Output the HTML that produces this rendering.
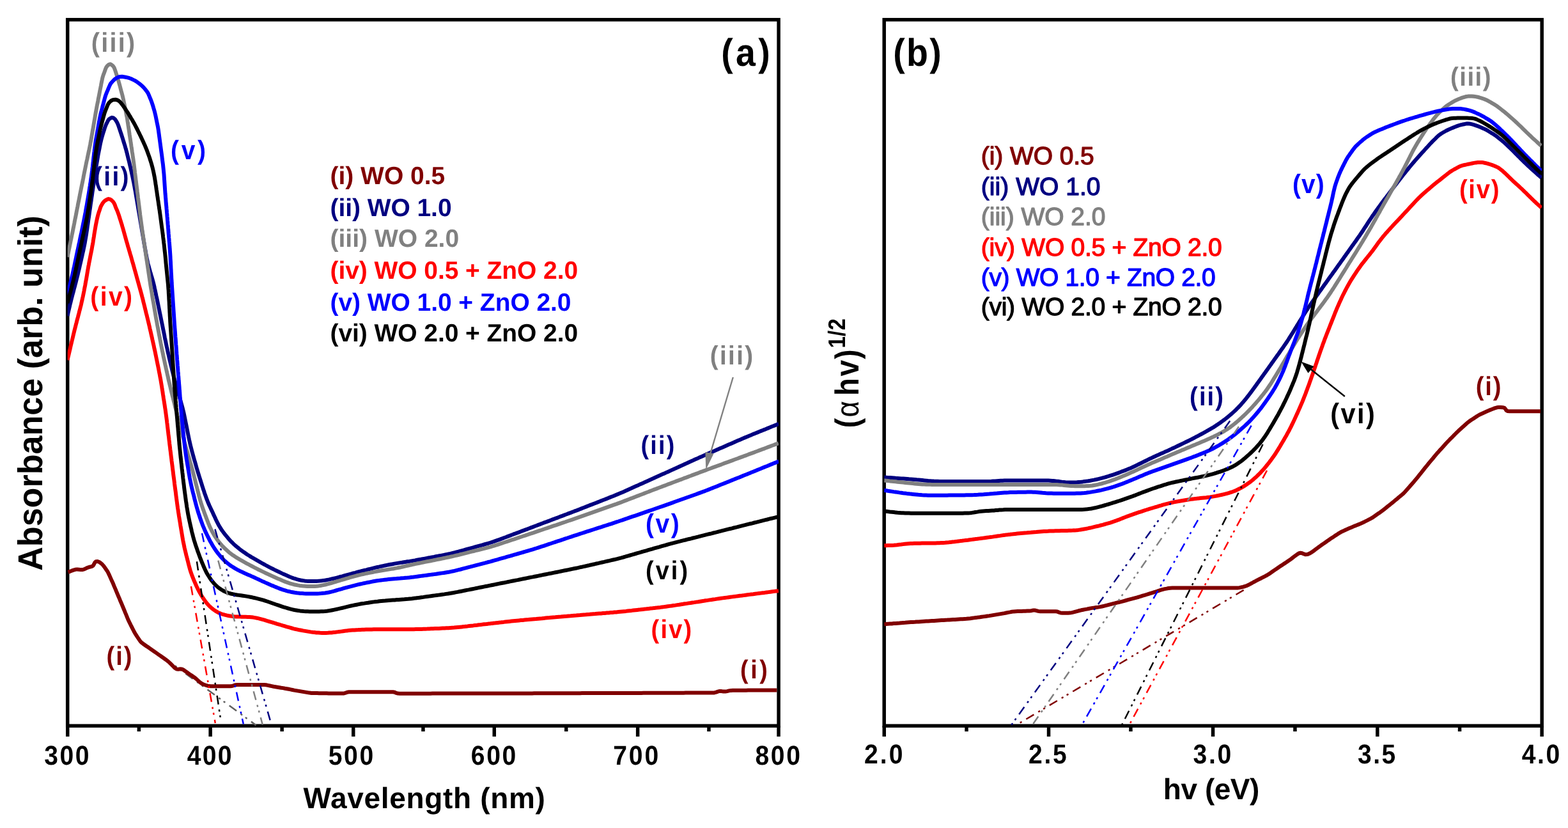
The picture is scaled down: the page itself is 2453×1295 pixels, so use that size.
<!DOCTYPE html>
<html lang="en"><head><meta charset="utf-8"><title>UV-Vis absorbance and Tauc plots</title>
<style>html,body{margin:0;padding:0;background:#fff}body{width:2453px;height:1295px;overflow:hidden}svg{display:block}</style>
</head><body>
<svg width="2453" height="1295" viewBox="0 0 2453 1295" font-family="'Liberation Sans', sans-serif" text-rendering="geometricPrecision">
<defs>
<clipPath id="cl"><rect x="105.7" y="30.8" width="1112.4" height="1104.4"/></clipPath>
<clipPath id="cr"><rect x="1383.2" y="30.8" width="1029.0" height="1104.4"/></clipPath>
</defs>
<rect x="105.7" y="30.8" width="1112.4" height="1104.4" fill="none" stroke="#000" stroke-width="5.5"/>
<rect x="103.0" y="1135.2" width="5.5" height="16.8" fill="#000"/>
<rect x="326.4" y="1135.2" width="5.5" height="16.8" fill="#000"/>
<rect x="550.0" y="1135.2" width="5.5" height="16.8" fill="#000"/>
<rect x="770.5" y="1135.2" width="5.5" height="16.8" fill="#000"/>
<rect x="994.9" y="1135.2" width="5.5" height="16.8" fill="#000"/>
<rect x="1215.3" y="1135.2" width="5.5" height="16.8" fill="#000"/>
<rect x="214.6" y="1135.2" width="5.5" height="8.8" fill="#000"/>
<rect x="438.4" y="1135.2" width="5.5" height="8.8" fill="#000"/>
<rect x="659.2" y="1135.2" width="5.5" height="8.8" fill="#000"/>
<rect x="883.0" y="1135.2" width="5.5" height="8.8" fill="#000"/>
<rect x="1106.2" y="1135.2" width="5.5" height="8.8" fill="#000"/>
<g clip-path="url(#cl)" fill="none" stroke-width="2.5" stroke-dasharray="14 8 3.2 6 3.2 8">
<line stroke="#606060" x1="222.0" y1="1003.2" x2="400.5" y2="1134.2"/>
</g>
<g clip-path="url(#cl)" fill="none" stroke-width="6.0" stroke-linejoin="round" stroke-linecap="butt">
<path stroke="#800000" d="M106.5,894.8 L109.3,893.8 L112.1,892.7 L115.0,891.7 L117.8,890.8 L120.7,890.4 L123.6,890.7 L126.5,891.1 L129.4,891.0 L132.2,890.1 L134.9,888.8 L137.6,887.6 L140.4,886.7 L143.2,886.1 L145.5,884.8 L147.0,882.5 L148.2,879.9 L150.0,878.2 L152.6,878.0 L155.3,879.0 L157.7,880.7 L159.9,882.6 L161.9,884.9 L163.7,887.3 L165.4,889.7 L167.1,892.2 L168.7,894.7 L170.0,897.4 L171.3,900.1 L172.5,902.9 L173.7,905.6 L174.9,908.3 L176.2,911.1 L177.4,913.8 L178.5,916.6 L179.7,919.4 L180.9,922.1 L182.0,924.9 L183.2,927.7 L184.3,930.4 L185.5,933.2 L186.7,935.9 L187.8,938.7 L189.0,941.5 L190.2,944.2 L191.3,947.0 L192.5,949.8 L193.6,952.5 L194.8,955.3 L195.9,958.1 L197.1,960.9 L198.2,963.6 L199.3,966.4 L200.5,969.2 L201.7,971.9 L203.1,974.6 L204.4,977.3 L205.8,980.0 L207.1,982.6 L208.5,985.3 L209.8,988.0 L211.3,990.6 L212.9,993.1 L214.5,995.6 L216.2,998.1 L217.9,1000.6 L219.6,1003.1 L221.6,1005.2 L223.9,1007.0 L226.4,1008.7 L228.9,1010.4 L231.4,1012.1 L233.9,1013.8 L236.3,1015.5 L238.8,1017.2 L241.3,1018.9 L243.7,1020.6 L246.2,1022.4 L248.6,1024.1 L251.1,1025.8 L253.5,1027.5 L256.0,1029.3 L258.4,1031.0 L260.9,1032.7 L263.2,1034.6 L265.4,1036.6 L267.5,1038.7 L269.7,1040.9 L271.8,1043.0 L273.9,1045.0 L276.3,1046.5 L279.0,1046.7 L281.9,1046.3 L284.6,1046.5 L287.2,1047.8 L289.6,1049.5 L292.1,1051.2 L294.5,1053.0 L297.0,1054.7 L299.5,1056.3 L302.0,1058.0 L304.4,1059.7 L306.8,1061.6 L309.0,1063.6 L311.2,1065.6 L313.4,1067.6 L315.9,1069.3 L318.6,1070.5 L321.4,1071.5 L324.2,1072.4 L327.1,1073.1 L330.1,1073.3 L333.1,1073.3 L336.1,1073.3 L339.1,1073.3 L342.1,1073.3 L345.1,1073.3 L348.1,1073.3 L351.1,1073.3 L354.1,1073.3 L357.1,1073.3 L360.1,1073.3 L363.0,1073.0 L365.7,1072.1 L368.4,1071.2 L371.3,1070.9 L374.3,1070.9 L377.3,1070.9 L380.3,1070.9 L383.3,1070.9 L386.3,1070.9 L389.3,1070.9 L392.3,1070.9 L395.3,1070.9 L398.3,1070.9 L401.3,1070.9 L404.3,1070.9 L407.3,1070.9 L410.3,1070.9 L413.3,1071.0 L416.3,1071.3 L419.2,1071.9 L422.2,1072.5 L425.1,1073.1 L428.0,1073.7 L431.0,1074.2 L433.9,1074.7 L436.9,1075.2 L439.9,1075.7 L442.8,1076.1 L445.8,1076.7 L448.7,1077.2 L451.7,1077.8 L454.6,1078.4 L457.5,1079.0 L460.5,1079.6 L463.4,1080.1 L466.4,1080.6 L469.4,1081.1 L472.3,1081.6 L475.3,1082.1 L478.2,1082.6 L481.2,1083.1 L484.1,1083.6 L487.1,1083.9 L490.1,1084.0 L493.1,1084.1 L496.1,1084.1 L499.1,1084.2 L502.1,1084.2 L505.1,1084.2 L508.1,1084.3 L511.1,1084.3 L514.1,1084.4 L517.1,1084.4 L520.1,1084.4 L523.1,1084.5 L526.1,1084.5 L529.1,1084.6 L532.1,1084.6 L535.1,1084.6 L538.0,1084.5 L540.6,1083.7 L543.0,1082.7 L545.8,1082.3 L548.8,1082.3 L551.8,1082.3 L554.8,1082.3 L557.8,1082.3 L560.8,1082.3 L563.8,1082.3 L566.8,1082.3 L569.8,1082.3 L572.8,1082.3 L575.8,1082.3 L578.8,1082.3 L581.8,1082.3 L584.8,1082.3 L587.8,1082.3 L590.8,1082.3 L593.8,1082.3 L596.8,1082.3 L599.8,1082.3 L602.8,1082.3 L605.8,1082.3 L608.8,1082.3 L611.8,1082.3 L614.8,1082.3 L617.6,1082.8 L620.0,1083.9 L622.6,1084.6 L625.5,1084.7 L628.5,1084.7 L631.5,1084.7 L634.5,1084.7 L637.5,1084.7 L640.5,1084.7 L643.5,1084.7 L646.5,1084.7 L649.5,1084.7 L652.5,1084.7 L655.5,1084.7 L658.5,1084.7 L661.5,1084.7 L664.5,1084.7 L667.5,1084.7 L670.5,1084.7 L673.5,1084.7 L676.5,1084.6 L679.5,1084.6 L682.5,1084.6 L685.5,1084.6 L688.5,1084.6 L691.5,1084.6 L694.5,1084.6 L697.5,1084.6 L700.5,1084.6 L703.5,1084.6 L706.5,1084.6 L709.5,1084.6 L712.5,1084.6 L715.5,1084.6 L718.5,1084.6 L721.5,1084.6 L724.5,1084.6 L727.5,1084.6 L730.5,1084.5 L733.5,1084.5 L736.5,1084.5 L739.5,1084.5 L742.5,1084.5 L745.5,1084.5 L748.5,1084.5 L751.5,1084.5 L754.5,1084.5 L757.5,1084.5 L760.5,1084.5 L763.5,1084.5 L766.5,1084.5 L769.5,1084.5 L772.5,1084.5 L775.5,1084.5 L778.5,1084.5 L781.5,1084.4 L784.5,1084.4 L787.5,1084.4 L790.5,1084.4 L793.5,1084.4 L796.5,1084.4 L799.5,1084.4 L802.5,1084.4 L805.5,1084.4 L808.5,1084.4 L811.5,1084.4 L814.5,1084.4 L817.5,1084.4 L820.5,1084.4 L823.5,1084.4 L826.5,1084.4 L829.5,1084.4 L832.5,1084.4 L835.5,1084.3 L838.5,1084.3 L841.5,1084.3 L844.5,1084.3 L847.5,1084.3 L850.5,1084.3 L853.5,1084.3 L856.5,1084.3 L859.5,1084.3 L862.5,1084.3 L865.5,1084.3 L868.5,1084.3 L871.5,1084.3 L874.5,1084.3 L877.5,1084.2 L880.5,1084.2 L883.5,1084.2 L886.5,1084.2 L889.5,1084.2 L892.5,1084.2 L895.5,1084.2 L898.5,1084.2 L901.5,1084.2 L904.5,1084.2 L907.5,1084.2 L910.5,1084.1 L913.5,1084.1 L916.5,1084.1 L919.5,1084.1 L922.5,1084.1 L925.5,1084.1 L928.5,1084.1 L931.5,1084.1 L934.5,1084.1 L937.5,1084.1 L940.5,1084.1 L943.5,1084.0 L946.5,1084.0 L949.5,1084.0 L952.5,1084.0 L955.5,1084.0 L958.5,1084.0 L961.5,1084.0 L964.5,1084.0 L967.5,1084.0 L970.5,1084.0 L973.5,1083.9 L976.5,1083.9 L979.5,1083.9 L982.5,1083.9 L985.5,1083.9 L988.5,1083.9 L991.5,1083.9 L994.5,1083.9 L997.5,1083.9 L1000.5,1083.9 L1003.5,1083.9 L1006.5,1083.8 L1009.5,1083.8 L1012.5,1083.8 L1015.5,1083.8 L1018.5,1083.8 L1021.5,1083.8 L1024.5,1083.8 L1027.5,1083.8 L1030.5,1083.8 L1033.5,1083.8 L1036.5,1083.8 L1039.5,1083.7 L1042.5,1083.7 L1045.5,1083.7 L1048.5,1083.7 L1051.5,1083.7 L1054.5,1083.7 L1057.5,1083.7 L1060.5,1083.7 L1063.5,1083.7 L1066.5,1083.7 L1069.5,1083.7 L1072.5,1083.6 L1075.5,1083.6 L1078.5,1083.6 L1081.5,1083.6 L1084.5,1083.6 L1087.5,1083.6 L1090.5,1083.6 L1093.5,1083.6 L1096.5,1083.6 L1099.5,1083.6 L1102.5,1083.6 L1105.5,1083.5 L1108.5,1083.5 L1111.5,1083.5 L1114.5,1083.5 L1117.5,1083.4 L1120.3,1082.7 L1123.0,1081.6 L1125.8,1080.9 L1128.7,1081.1 L1131.7,1081.5 L1134.7,1081.6 L1137.5,1081.1 L1140.4,1080.4 L1143.4,1079.9 L1146.3,1079.8 L1149.3,1079.8 L1152.3,1079.7 L1155.3,1079.7 L1158.3,1079.7 L1161.3,1079.7 L1164.3,1079.7 L1167.3,1079.7 L1170.3,1079.6 L1173.3,1079.6 L1176.3,1079.6 L1179.3,1079.6 L1182.3,1079.6 L1185.3,1079.6 L1188.3,1079.5 L1191.3,1079.5 L1194.3,1079.5 L1197.3,1079.5 L1200.3,1079.5 L1203.3,1079.5 L1206.3,1079.4 L1209.3,1079.4 L1212.3,1079.4 L1215.3,1079.4"/>
<path stroke="#000080" d="M105.5,494.0 L106.2,491.1 L106.8,488.2 L107.5,485.2 L108.2,482.3 L108.9,479.4 L109.5,476.5 L110.3,473.5 L111.0,470.6 L111.7,467.7 L112.5,464.8 L113.2,461.9 L114.0,459.0 L114.8,456.1 L115.5,453.2 L116.3,450.3 L117.1,447.4 L117.8,444.5 L118.6,441.6 L119.3,438.7 L120.0,435.8 L120.8,432.9 L121.5,430.0 L122.2,427.1 L122.9,424.1 L123.6,421.2 L124.3,418.3 L124.9,415.4 L125.6,412.5 L126.3,409.5 L127.0,406.6 L127.6,403.7 L128.3,400.8 L128.9,397.8 L129.6,394.9 L130.3,392.0 L130.9,389.0 L131.5,386.1 L132.1,383.2 L132.7,380.2 L133.2,377.3 L133.7,374.3 L134.2,371.4 L134.7,368.4 L135.2,365.4 L135.6,362.5 L136.1,359.5 L136.5,356.5 L136.9,353.6 L137.4,350.6 L137.8,347.6 L138.2,344.7 L138.6,341.7 L139.1,338.7 L139.5,335.8 L139.9,332.8 L140.3,329.8 L140.8,326.8 L141.2,323.9 L141.6,320.9 L142.0,317.9 L142.5,315.0 L142.9,312.0 L143.3,309.0 L143.8,306.1 L144.2,303.1 L144.6,300.1 L145.1,297.2 L145.5,294.2 L145.9,291.2 L146.4,288.3 L146.8,285.3 L147.2,282.3 L147.7,279.4 L148.1,276.4 L148.5,273.4 L149.0,270.4 L149.4,267.5 L149.9,264.5 L150.3,261.5 L150.8,258.6 L151.3,255.6 L151.8,252.7 L152.3,249.7 L152.8,246.7 L153.3,243.8 L153.8,240.8 L154.4,237.9 L155.0,235.0 L155.6,232.0 L156.1,229.1 L156.7,226.1 L157.3,223.2 L158.0,220.3 L158.7,217.4 L159.5,214.5 L160.3,211.6 L161.2,208.7 L162.1,205.9 L163.0,203.0 L163.9,200.1 L164.9,197.3 L166.0,194.5 L167.4,191.8 L168.7,189.2 L170.3,186.7 L172.6,184.9 L175.1,183.8 L177.6,184.5 L179.8,186.3 L181.5,188.7 L183.0,191.3 L184.3,194.0 L185.4,196.8 L186.3,199.6 L187.3,202.5 L188.2,205.3 L189.2,208.2 L190.1,211.0 L191.0,213.9 L191.9,216.7 L192.8,219.6 L193.7,222.5 L194.6,225.3 L195.5,228.2 L196.3,231.1 L197.2,234.0 L197.9,236.9 L198.7,239.8 L199.4,242.7 L200.1,245.6 L200.8,248.5 L201.6,251.4 L202.3,254.3 L203.0,257.2 L203.7,260.2 L204.4,263.1 L205.0,266.0 L205.7,268.9 L206.3,271.9 L207.0,274.8 L207.6,277.7 L208.2,280.7 L208.8,283.6 L209.4,286.5 L209.9,289.5 L210.5,292.4 L211.0,295.4 L211.6,298.3 L212.1,301.3 L212.6,304.3 L213.1,307.2 L213.6,310.2 L214.1,313.1 L214.6,316.1 L215.1,319.0 L215.6,322.0 L216.1,325.0 L216.6,327.9 L217.1,330.9 L217.6,333.8 L218.1,336.8 L218.6,339.7 L219.1,342.7 L219.6,345.7 L220.1,348.6 L220.6,351.6 L221.1,354.5 L221.6,357.5 L222.1,360.5 L222.6,363.4 L223.1,366.4 L223.6,369.3 L224.1,372.3 L224.6,375.2 L225.1,378.2 L225.6,381.2 L226.1,384.1 L226.6,387.1 L227.2,390.0 L227.7,393.0 L228.2,395.9 L228.7,398.9 L229.3,401.8 L229.9,404.8 L230.5,407.7 L231.1,410.6 L231.8,413.5 L232.6,416.4 L233.4,419.3 L234.2,422.2 L235.0,425.1 L235.9,428.0 L236.7,430.8 L237.6,433.7 L238.4,436.6 L239.2,439.5 L240.0,442.4 L240.7,445.3 L241.4,448.2 L242.0,451.1 L242.7,454.1 L243.3,457.0 L243.9,459.9 L244.5,462.9 L245.2,465.8 L245.8,468.7 L246.4,471.7 L247.0,474.6 L247.6,477.5 L248.2,480.5 L248.8,483.4 L249.4,486.4 L250.0,489.3 L250.6,492.2 L251.2,495.2 L251.8,498.1 L252.4,501.1 L253.0,504.0 L253.6,506.9 L254.2,509.9 L254.8,512.8 L255.4,515.8 L256.0,518.7 L256.6,521.6 L257.2,524.6 L257.7,527.5 L258.3,530.5 L259.0,533.4 L259.6,536.3 L260.2,539.3 L260.8,542.2 L261.5,545.1 L262.1,548.1 L262.7,551.0 L263.4,553.9 L264.1,556.9 L264.7,559.8 L265.4,562.7 L266.1,565.6 L266.8,568.5 L267.5,571.5 L268.2,574.4 L268.9,577.3 L269.6,580.2 L270.3,583.1 L271.1,586.0 L271.8,588.9 L272.6,591.8 L273.4,594.7 L274.2,597.6 L275.0,600.5 L275.8,603.4 L276.6,606.3 L277.4,609.2 L278.2,612.1 L279.0,614.9 L279.9,617.8 L280.7,620.7 L281.5,623.6 L282.4,626.5 L283.2,629.3 L284.0,632.2 L284.8,635.1 L285.6,638.0 L286.3,640.9 L287.0,643.8 L287.7,646.8 L288.3,649.7 L288.9,652.6 L289.5,655.6 L290.1,658.5 L290.7,661.5 L291.3,664.4 L291.9,667.3 L292.5,670.3 L293.0,673.2 L293.6,676.2 L294.2,679.1 L294.8,682.0 L295.4,685.0 L296.0,687.9 L296.7,690.9 L297.3,693.8 L298.0,696.7 L298.7,699.6 L299.5,702.5 L300.2,705.4 L301.0,708.3 L301.8,711.2 L302.6,714.1 L303.4,717.0 L304.2,719.9 L305.1,722.7 L305.9,725.6 L306.7,728.5 L307.5,731.4 L308.4,734.3 L309.2,737.2 L310.1,740.0 L311.0,742.9 L311.9,745.8 L312.8,748.6 L313.7,751.5 L314.6,754.3 L315.5,757.2 L316.4,760.1 L317.3,762.9 L318.2,765.8 L319.2,768.6 L320.1,771.5 L321.1,774.3 L322.1,777.1 L323.1,779.9 L324.2,782.7 L325.3,785.5 L326.5,788.3 L327.7,791.0 L329.0,793.7 L330.2,796.4 L331.5,799.1 L332.8,801.8 L334.0,804.6 L335.3,807.3 L336.6,810.0 L337.8,812.7 L339.1,815.4 L340.5,818.1 L341.8,820.7 L343.3,823.3 L344.9,825.9 L346.5,828.4 L348.2,830.8 L350.0,833.2 L351.8,835.6 L353.7,837.9 L355.6,840.2 L357.5,842.5 L359.5,844.7 L361.5,846.9 L363.7,849.0 L365.8,851.1 L368.0,853.1 L370.3,855.0 L372.6,856.9 L374.9,858.8 L377.3,860.6 L379.7,862.4 L382.2,864.1 L384.6,865.8 L387.1,867.5 L389.7,869.0 L392.2,870.6 L394.8,872.2 L397.4,873.7 L400.0,875.2 L402.6,876.7 L405.2,878.2 L407.8,879.7 L410.4,881.1 L413.0,882.5 L415.7,884.0 L418.3,885.4 L421.0,886.8 L423.6,888.2 L426.3,889.5 L429.0,890.9 L431.7,892.2 L434.4,893.5 L437.1,894.8 L439.8,896.1 L442.5,897.4 L445.2,898.6 L448.0,899.8 L450.7,901.0 L453.5,902.2 L456.3,903.3 L459.1,904.3 L461.9,905.2 L464.8,906.1 L467.6,906.8 L470.5,907.5 L473.5,908.0 L476.4,908.4 L479.4,908.7 L482.3,908.9 L485.3,909.0 L488.3,909.1 L491.3,909.0 L494.3,908.9 L497.3,908.8 L500.3,908.6 L503.2,908.3 L506.2,907.9 L509.1,907.5 L512.1,906.9 L515.0,906.4 L517.9,905.7 L520.9,905.0 L523.8,904.3 L526.7,903.6 L529.6,902.8 L532.5,902.0 L535.4,901.3 L538.3,900.5 L541.2,899.7 L544.1,898.9 L547.0,898.1 L549.8,897.3 L552.7,896.5 L555.6,895.8 L558.5,895.0 L561.4,894.2 L564.3,893.5 L567.3,892.7 L570.2,892.0 L573.1,891.3 L576.0,890.5 L578.9,889.8 L581.8,889.1 L584.7,888.4 L587.6,887.7 L590.6,887.0 L593.5,886.4 L596.4,885.7 L599.3,885.1 L602.3,884.5 L605.2,883.9 L608.2,883.3 L611.1,882.7 L614.1,882.2 L617.0,881.6 L620.0,881.1 L622.9,880.6 L625.9,880.1 L628.8,879.7 L631.8,879.2 L634.8,878.8 L637.7,878.3 L640.7,877.9 L643.7,877.4 L646.6,876.9 L649.6,876.4 L652.5,875.8 L655.5,875.3 L658.4,874.8 L661.4,874.2 L664.3,873.7 L667.3,873.1 L670.2,872.5 L673.2,872.0 L676.1,871.4 L679.1,870.9 L682.0,870.3 L685.0,869.8 L687.9,869.2 L690.8,868.7 L693.8,868.1 L696.7,867.5 L699.7,866.9 L702.6,866.3 L705.5,865.6 L708.4,864.9 L711.4,864.2 L714.3,863.4 L717.2,862.7 L720.0,861.9 L722.9,861.1 L725.8,860.3 L728.7,859.5 L731.6,858.7 L734.5,857.9 L737.4,857.1 L740.3,856.3 L743.2,855.5 L746.1,854.7 L749.0,853.9 L751.9,853.1 L754.8,852.3 L757.6,851.5 L760.5,850.7 L763.4,849.9 L766.3,849.0 L769.1,848.1 L772.0,847.2 L774.8,846.2 L777.6,845.2 L780.5,844.2 L783.3,843.1 L786.1,842.1 L788.9,841.0 L791.7,840.0 L794.5,838.9 L797.3,837.9 L800.1,836.8 L802.9,835.7 L805.7,834.7 L808.5,833.6 L811.4,832.6 L814.2,831.5 L817.0,830.4 L819.8,829.4 L822.6,828.3 L825.4,827.3 L828.2,826.2 L831.0,825.1 L833.8,824.1 L836.6,823.0 L839.4,822.0 L842.2,820.9 L845.0,819.9 L847.8,818.8 L850.6,817.7 L853.5,816.7 L856.3,815.6 L859.1,814.6 L861.9,813.5 L864.7,812.4 L867.5,811.4 L870.3,810.3 L873.1,809.3 L875.9,808.2 L878.7,807.2 L881.5,806.1 L884.3,805.0 L887.1,804.0 L889.9,802.9 L892.8,801.9 L895.6,800.8 L898.4,799.7 L901.2,798.7 L904.0,797.6 L906.8,796.5 L909.6,795.4 L912.4,794.3 L915.1,793.2 L917.9,792.1 L920.7,791.0 L923.5,789.9 L926.3,788.9 L929.1,787.8 L931.9,786.7 L934.7,785.6 L937.5,784.5 L940.3,783.4 L943.1,782.3 L945.9,781.2 L948.7,780.1 L951.5,779.0 L954.2,777.9 L957.0,776.8 L959.8,775.7 L962.6,774.5 L965.4,773.4 L968.1,772.3 L970.9,771.1 L973.7,769.9 L976.4,768.7 L979.1,767.5 L981.9,766.2 L984.6,765.0 L987.4,763.8 L990.1,762.5 L992.8,761.3 L995.6,760.1 L998.3,758.9 L1001.0,757.6 L1003.8,756.4 L1006.5,755.2 L1009.2,753.9 L1012.0,752.7 L1014.7,751.5 L1017.4,750.2 L1020.2,749.0 L1022.9,747.8 L1025.6,746.5 L1028.4,745.3 L1031.1,744.1 L1033.8,742.8 L1036.6,741.6 L1039.3,740.4 L1042.1,739.1 L1044.8,737.9 L1047.5,736.7 L1050.3,735.4 L1053.0,734.2 L1055.7,732.9 L1058.5,731.7 L1061.2,730.5 L1063.9,729.2 L1066.7,728.0 L1069.4,726.8 L1072.1,725.5 L1074.9,724.3 L1077.6,723.0 L1080.3,721.8 L1083.1,720.6 L1085.8,719.3 L1088.5,718.1 L1091.3,716.9 L1094.0,715.6 L1096.7,714.4 L1099.5,713.2 L1102.2,712.0 L1104.9,710.8 L1107.7,709.5 L1110.4,708.3 L1113.2,707.1 L1115.9,705.9 L1118.7,704.7 L1121.4,703.5 L1124.2,702.3 L1126.9,701.1 L1129.7,699.9 L1132.4,698.7 L1135.2,697.5 L1137.9,696.3 L1140.7,695.1 L1143.4,693.9 L1146.2,692.7 L1148.9,691.5 L1151.7,690.3 L1154.4,689.1 L1157.2,687.9 L1159.9,686.7 L1162.7,685.5 L1165.4,684.4 L1168.2,683.2 L1171.0,682.1 L1173.8,680.9 L1176.5,679.8 L1179.3,678.6 L1182.1,677.5 L1184.9,676.4 L1187.6,675.3 L1190.4,674.1 L1193.2,673.0 L1196.0,671.9 L1198.8,670.7 L1201.5,669.6 L1204.3,668.5 L1207.1,667.3 L1209.9,666.2 L1212.7,665.1 L1215.4,664.0 L1218.2,662.8"/>
<path stroke="#808080" d="M105.5,402.0 L106.1,399.1 L106.7,396.1 L107.3,393.2 L107.9,390.2 L108.5,387.3 L109.1,384.4 L109.7,381.4 L110.3,378.5 L110.9,375.5 L111.5,372.6 L112.1,369.7 L112.7,366.7 L113.3,363.8 L113.9,360.8 L114.5,357.9 L115.1,355.0 L115.7,352.0 L116.3,349.1 L116.8,346.1 L117.4,343.2 L118.0,340.3 L118.6,337.3 L119.2,334.4 L119.7,331.4 L120.3,328.5 L120.9,325.5 L121.5,322.6 L122.0,319.6 L122.6,316.7 L123.2,313.8 L123.8,310.8 L124.4,307.9 L124.9,304.9 L125.5,302.0 L126.1,299.0 L126.7,296.1 L127.3,293.2 L127.9,290.2 L128.5,287.3 L129.1,284.3 L129.7,281.4 L130.3,278.5 L130.8,275.5 L131.4,272.6 L132.0,269.6 L132.6,266.7 L133.2,263.8 L133.8,260.8 L134.4,257.9 L135.0,254.9 L135.6,252.0 L136.3,249.1 L136.9,246.1 L137.5,243.2 L138.1,240.3 L138.7,237.3 L139.4,234.4 L140.0,231.5 L140.6,228.5 L141.2,225.6 L141.7,222.6 L142.3,219.7 L142.8,216.7 L143.3,213.8 L143.8,210.8 L144.3,207.9 L144.8,204.9 L145.4,201.9 L145.9,199.0 L146.4,196.0 L146.9,193.1 L147.4,190.1 L147.9,187.2 L148.4,184.2 L148.9,181.2 L149.4,178.3 L149.9,175.3 L150.5,172.4 L151.0,169.4 L151.5,166.5 L152.1,163.5 L152.7,160.6 L153.3,157.6 L153.8,154.7 L154.4,151.8 L155.0,148.8 L155.6,145.9 L156.1,142.9 L156.7,140.0 L157.3,137.0 L157.9,134.1 L158.4,131.1 L159.0,128.2 L159.6,125.3 L160.2,122.3 L161.0,119.4 L161.9,116.6 L163.0,113.8 L164.0,111.0 L165.0,108.1 L166.1,105.4 L167.8,103.0 L170.1,101.1 L172.4,100.2 L174.7,101.4 L176.9,103.3 L178.5,105.7 L179.6,108.5 L180.6,111.3 L181.5,114.2 L182.4,117.0 L183.3,119.9 L184.2,122.8 L185.1,125.6 L185.9,128.5 L186.7,131.4 L187.5,134.3 L188.3,137.2 L189.0,140.1 L189.8,143.0 L190.6,145.9 L191.4,148.8 L192.1,151.7 L192.8,154.6 L193.4,157.5 L194.0,160.5 L194.6,163.4 L195.2,166.4 L195.8,169.3 L196.4,172.2 L197.0,175.2 L197.5,178.1 L198.1,181.1 L198.7,184.0 L199.2,187.0 L199.6,189.9 L200.1,192.9 L200.5,195.9 L201.0,198.8 L201.4,201.8 L201.9,204.8 L202.3,207.7 L202.7,210.7 L203.2,213.7 L203.6,216.6 L204.1,219.6 L204.5,222.6 L205.0,225.5 L205.4,228.5 L205.9,231.5 L206.3,234.4 L206.7,237.4 L207.2,240.4 L207.6,243.3 L208.0,246.3 L208.5,249.3 L208.9,252.3 L209.3,255.2 L209.7,258.2 L210.0,261.2 L210.4,264.2 L210.8,267.1 L211.1,270.1 L211.5,273.1 L211.9,276.1 L212.2,279.0 L212.6,282.0 L213.0,285.0 L213.3,288.0 L213.7,291.0 L214.1,293.9 L214.5,296.9 L214.8,299.9 L215.2,302.9 L215.6,305.8 L215.9,308.8 L216.3,311.8 L216.7,314.8 L217.0,317.7 L217.4,320.7 L217.8,323.7 L218.1,326.7 L218.5,329.7 L218.9,332.6 L219.2,335.6 L219.6,338.6 L220.0,341.6 L220.4,344.5 L220.8,347.5 L221.2,350.5 L221.6,353.5 L222.0,356.4 L222.4,359.4 L222.9,362.4 L223.3,365.3 L223.7,368.3 L224.2,371.3 L224.6,374.2 L225.1,377.2 L225.5,380.2 L226.0,383.1 L226.4,386.1 L226.9,389.1 L227.3,392.0 L227.8,395.0 L228.2,398.0 L228.6,400.9 L229.1,403.9 L229.5,406.9 L230.0,409.8 L230.4,412.8 L230.9,415.8 L231.3,418.7 L231.8,421.7 L232.2,424.7 L232.6,427.6 L233.1,430.6 L233.5,433.6 L234.0,436.5 L234.4,439.5 L234.9,442.5 L235.3,445.4 L235.8,448.4 L236.3,451.4 L236.8,454.3 L237.3,457.3 L237.8,460.2 L238.2,463.2 L238.7,466.2 L239.2,469.1 L239.8,472.1 L240.3,475.0 L240.8,478.0 L241.3,480.9 L241.8,483.9 L242.3,486.9 L242.8,489.8 L243.3,492.8 L243.8,495.7 L244.3,498.7 L244.9,501.6 L245.4,504.6 L245.9,507.5 L246.5,510.5 L247.1,513.4 L247.6,516.4 L248.2,519.3 L248.7,522.3 L249.3,525.2 L249.9,528.2 L250.4,531.1 L251.0,534.1 L251.5,537.0 L252.1,540.0 L252.7,542.9 L253.3,545.8 L253.9,548.8 L254.5,551.7 L255.1,554.7 L255.7,557.6 L256.3,560.5 L257.0,563.5 L257.6,566.4 L258.2,569.3 L258.9,572.2 L259.5,575.2 L260.2,578.1 L260.8,581.0 L261.5,584.0 L262.1,586.9 L262.8,589.8 L263.4,592.7 L264.1,595.7 L264.8,598.6 L265.5,601.5 L266.2,604.4 L266.9,607.3 L267.6,610.3 L268.3,613.2 L269.0,616.1 L269.7,619.0 L270.5,621.9 L271.2,624.8 L271.9,627.7 L272.7,630.6 L273.4,633.5 L274.1,636.5 L274.8,639.4 L275.6,642.3 L276.3,645.2 L277.0,648.1 L277.8,651.0 L278.5,653.9 L279.2,656.8 L280.0,659.7 L280.7,662.6 L281.5,665.5 L282.2,668.4 L283.0,671.3 L283.8,674.2 L284.6,677.1 L285.4,680.0 L286.2,682.9 L287.0,685.8 L287.8,688.7 L288.6,691.6 L289.5,694.5 L290.3,697.3 L291.1,700.2 L291.9,703.1 L292.8,706.0 L293.6,708.9 L294.4,711.8 L295.3,714.6 L296.1,717.5 L296.9,720.4 L297.7,723.3 L298.6,726.2 L299.4,729.1 L300.2,732.0 L301.0,734.8 L301.8,737.7 L302.5,740.6 L303.3,743.5 L304.0,746.4 L304.8,749.4 L305.5,752.3 L306.2,755.2 L306.9,758.1 L307.7,761.0 L308.4,763.9 L309.1,766.8 L309.9,769.7 L310.6,772.6 L311.3,775.5 L312.1,778.4 L312.9,781.3 L313.7,784.2 L314.6,787.1 L315.5,789.9 L316.5,792.8 L317.4,795.6 L318.5,798.4 L319.5,801.2 L320.5,804.0 L321.6,806.9 L322.6,809.7 L323.7,812.5 L324.8,815.3 L325.8,818.1 L327.0,820.8 L328.1,823.6 L329.4,826.3 L330.7,829.0 L332.0,831.6 L333.5,834.2 L335.0,836.8 L336.6,839.3 L338.3,841.8 L340.0,844.3 L341.8,846.7 L343.6,849.0 L345.5,851.3 L347.5,853.5 L349.6,855.6 L351.7,857.8 L353.9,859.8 L356.1,861.8 L358.3,863.8 L360.7,865.6 L363.0,867.4 L365.5,869.1 L368.0,870.8 L370.5,872.4 L373.1,873.9 L375.6,875.4 L378.3,876.9 L380.9,878.4 L383.5,879.8 L386.1,881.3 L388.8,882.7 L391.4,884.1 L394.1,885.5 L396.7,886.9 L399.4,888.3 L402.1,889.6 L404.7,891.0 L407.4,892.3 L410.1,893.6 L412.8,894.9 L415.5,896.2 L418.3,897.5 L421.0,898.7 L423.7,900.0 L426.4,901.2 L429.2,902.5 L431.9,903.7 L434.6,904.9 L437.4,906.1 L440.1,907.3 L442.9,908.5 L445.7,909.6 L448.5,910.7 L451.3,911.7 L454.1,912.6 L457.0,913.4 L459.9,914.2 L462.8,914.8 L465.7,915.4 L468.7,915.9 L471.6,916.2 L474.6,916.6 L477.6,916.8 L480.6,917.0 L483.5,917.0 L486.5,917.1 L489.5,917.0 L492.5,916.9 L495.5,916.7 L498.4,916.4 L501.4,916.0 L504.3,915.4 L507.2,914.8 L510.1,914.2 L513.0,913.4 L515.9,912.6 L518.8,911.8 L521.7,910.9 L524.6,910.1 L527.4,909.2 L530.3,908.4 L533.2,907.5 L536.1,906.6 L538.9,905.8 L541.8,904.9 L544.7,904.1 L547.6,903.2 L550.4,902.4 L553.3,901.6 L556.2,900.8 L559.1,900.0 L562.0,899.3 L564.9,898.6 L567.9,898.0 L570.8,897.4 L573.7,896.7 L576.7,896.1 L579.6,895.6 L582.6,895.0 L585.5,894.4 L588.5,893.9 L591.4,893.3 L594.4,892.8 L597.3,892.3 L600.3,891.8 L603.2,891.4 L606.2,890.9 L609.2,890.4 L612.1,889.9 L615.1,889.5 L618.0,888.9 L621.0,888.4 L623.9,887.8 L626.9,887.2 L629.8,886.5 L632.7,885.9 L635.6,885.2 L638.5,884.5 L641.4,883.8 L644.4,883.2 L647.3,882.5 L650.2,881.9 L653.2,881.3 L656.1,880.7 L659.1,880.1 L662.0,879.5 L664.9,878.9 L667.9,878.3 L670.8,877.8 L673.8,877.2 L676.7,876.6 L679.6,876.0 L682.6,875.4 L685.5,874.8 L688.5,874.2 L691.4,873.6 L694.4,873.0 L697.3,872.4 L700.2,871.8 L703.2,871.2 L706.1,870.5 L709.0,869.9 L711.9,869.2 L714.8,868.5 L717.8,867.8 L720.7,867.0 L723.6,866.3 L726.5,865.6 L729.4,864.9 L732.3,864.1 L735.2,863.4 L738.1,862.7 L741.0,862.0 L744.0,861.2 L746.9,860.5 L749.8,859.8 L752.7,859.0 L755.6,858.3 L758.5,857.6 L761.4,856.8 L764.3,856.0 L767.2,855.3 L770.1,854.4 L773.0,853.6 L775.8,852.7 L778.7,851.8 L781.5,850.9 L784.4,849.9 L787.2,849.0 L790.1,848.0 L792.9,847.1 L795.8,846.1 L798.6,845.2 L801.5,844.2 L804.3,843.3 L807.1,842.3 L810.0,841.4 L812.8,840.4 L815.7,839.5 L818.5,838.5 L821.4,837.6 L824.2,836.6 L827.1,835.7 L829.9,834.7 L832.7,833.8 L835.6,832.8 L838.4,831.8 L841.3,830.9 L844.1,829.9 L847.0,829.0 L849.8,828.0 L852.6,827.0 L855.5,826.1 L858.3,825.1 L861.2,824.2 L864.0,823.2 L866.9,822.2 L869.7,821.3 L872.5,820.3 L875.4,819.3 L878.2,818.4 L881.1,817.4 L883.9,816.5 L886.7,815.5 L889.6,814.5 L892.4,813.6 L895.3,812.6 L898.1,811.6 L900.9,810.7 L903.8,809.7 L906.6,808.7 L909.4,807.7 L912.3,806.7 L915.1,805.7 L917.9,804.7 L920.8,803.7 L923.6,802.7 L926.4,801.7 L929.2,800.7 L932.1,799.7 L934.9,798.7 L937.7,797.7 L940.6,796.7 L943.4,795.7 L946.2,794.7 L949.0,793.7 L951.9,792.7 L954.7,791.7 L957.5,790.7 L960.3,789.7 L963.2,788.7 L966.0,787.6 L968.8,786.6 L971.6,785.6 L974.4,784.5 L977.2,783.4 L980.0,782.4 L982.8,781.3 L985.6,780.2 L988.4,779.2 L991.2,778.1 L994.0,777.0 L996.8,775.9 L999.6,774.9 L1002.4,773.8 L1005.2,772.7 L1008.0,771.6 L1010.8,770.5 L1013.6,769.5 L1016.4,768.4 L1019.2,767.3 L1022.0,766.2 L1024.8,765.2 L1027.6,764.1 L1030.4,763.0 L1033.2,762.0 L1036.1,760.9 L1038.9,759.8 L1041.7,758.8 L1044.5,757.7 L1047.3,756.7 L1050.1,755.6 L1052.9,754.5 L1055.7,753.5 L1058.5,752.4 L1061.3,751.4 L1064.1,750.3 L1066.9,749.3 L1069.7,748.2 L1072.6,747.2 L1075.4,746.1 L1078.2,745.0 L1081.0,744.0 L1083.8,742.9 L1086.6,741.9 L1089.4,740.8 L1092.2,739.8 L1095.0,738.7 L1097.8,737.7 L1100.6,736.6 L1103.5,735.6 L1106.3,734.5 L1109.1,733.5 L1111.9,732.5 L1114.7,731.4 L1117.5,730.4 L1120.4,729.4 L1123.2,728.3 L1126.0,727.3 L1128.8,726.3 L1131.6,725.2 L1134.4,724.2 L1137.3,723.2 L1140.1,722.1 L1142.9,721.1 L1145.7,720.1 L1148.5,719.0 L1151.3,718.0 L1154.2,717.0 L1157.0,715.9 L1159.8,714.9 L1162.6,713.9 L1165.4,712.8 L1168.2,711.8 L1171.0,710.7 L1173.8,709.7 L1176.7,708.6 L1179.5,707.6 L1182.3,706.5 L1185.1,705.5 L1187.9,704.4 L1190.7,703.4 L1193.5,702.3 L1196.3,701.3 L1199.1,700.2 L1201.9,699.1 L1204.7,698.1 L1207.5,697.0 L1210.4,696.0 L1213.2,694.9 L1216.0,693.9 L1217.8,693.2"/>
<path stroke="#ff0000" d="M105.5,563.0 L106.2,560.1 L106.9,557.2 L107.6,554.2 L108.3,551.3 L109.0,548.4 L109.7,545.5 L110.3,542.6 L111.0,539.6 L111.7,536.7 L112.4,533.8 L113.1,530.9 L113.8,528.0 L114.5,525.1 L115.2,522.1 L115.9,519.2 L116.6,516.3 L117.4,513.4 L118.1,510.5 L118.8,507.6 L119.6,504.7 L120.3,501.8 L121.1,498.9 L121.9,496.0 L122.6,493.1 L123.4,490.2 L124.1,487.3 L124.9,484.4 L125.6,481.5 L126.4,478.5 L127.1,475.6 L127.7,472.7 L128.4,469.8 L129.0,466.9 L129.7,463.9 L130.3,461.0 L130.9,458.0 L131.5,455.1 L132.0,452.2 L132.6,449.2 L133.2,446.3 L133.7,443.3 L134.2,440.4 L134.8,437.4 L135.3,434.5 L135.8,431.5 L136.3,428.5 L136.8,425.6 L137.3,422.6 L137.8,419.7 L138.3,416.7 L138.9,413.8 L139.4,410.8 L140.0,407.9 L140.6,404.9 L141.1,402.0 L141.7,399.0 L142.3,396.1 L142.9,393.2 L143.5,390.2 L144.0,387.3 L144.5,384.3 L145.1,381.4 L145.6,378.4 L146.0,375.4 L146.5,372.5 L147.0,369.5 L147.4,366.5 L147.9,363.6 L148.4,360.6 L148.9,357.7 L149.4,354.7 L149.9,351.8 L150.5,348.8 L151.1,345.9 L151.7,343.0 L152.4,340.0 L153.1,337.1 L153.9,334.3 L154.8,331.4 L155.8,328.7 L156.7,325.8 L157.7,323.0 L159.1,320.4 L160.6,317.8 L162.4,315.5 L164.6,313.6 L167.1,312.1 L169.7,311.1 L172.3,311.7 L174.7,313.3 L176.8,315.3 L178.4,317.7 L179.7,320.4 L180.7,323.3 L181.8,326.0 L183.0,328.7 L184.1,331.5 L185.1,334.3 L186.1,337.1 L187.0,340.0 L187.9,342.8 L188.8,345.7 L189.7,348.6 L190.6,351.4 L191.4,354.3 L192.3,357.2 L193.1,360.1 L193.9,363.0 L194.7,365.9 L195.5,368.7 L196.3,371.6 L197.1,374.5 L197.9,377.4 L198.8,380.3 L199.6,383.2 L200.4,386.1 L201.3,388.9 L202.1,391.8 L203.0,394.7 L203.8,397.6 L204.7,400.4 L205.5,403.3 L206.3,406.2 L207.1,409.1 L208.0,412.0 L208.8,414.9 L209.6,417.8 L210.4,420.7 L211.2,423.5 L212.0,426.4 L212.8,429.3 L213.6,432.2 L214.4,435.1 L215.2,438.0 L216.0,440.9 L216.8,443.8 L217.6,446.7 L218.4,449.5 L219.2,452.4 L220.0,455.3 L220.8,458.2 L221.6,461.1 L222.3,464.0 L223.1,466.9 L223.8,469.8 L224.5,472.8 L225.3,475.7 L226.0,478.6 L226.7,481.5 L227.4,484.4 L228.1,487.3 L228.8,490.2 L229.6,493.1 L230.3,496.1 L231.0,499.0 L231.7,501.9 L232.4,504.8 L233.1,507.7 L233.8,510.6 L234.4,513.6 L235.1,516.5 L235.8,519.4 L236.4,522.3 L237.1,525.3 L237.8,528.2 L238.4,531.1 L239.1,534.1 L239.7,537.0 L240.4,539.9 L241.0,542.8 L241.6,545.8 L242.3,548.7 L242.9,551.6 L243.5,554.6 L244.1,557.5 L244.7,560.5 L245.3,563.4 L245.9,566.3 L246.5,569.3 L247.1,572.2 L247.7,575.2 L248.3,578.1 L248.8,581.0 L249.4,584.0 L250.0,586.9 L250.5,589.9 L251.1,592.8 L251.6,595.8 L252.1,598.7 L252.6,601.7 L253.1,604.7 L253.5,607.6 L254.0,610.6 L254.5,613.6 L254.9,616.5 L255.4,619.5 L255.8,622.4 L256.3,625.4 L256.8,628.4 L257.2,631.3 L257.7,634.3 L258.1,637.3 L258.6,640.2 L259.0,643.2 L259.4,646.2 L259.8,649.2 L260.2,652.1 L260.6,655.1 L261.0,658.1 L261.3,661.1 L261.7,664.0 L262.0,667.0 L262.4,670.0 L262.7,673.0 L263.1,676.0 L263.4,678.9 L263.8,681.9 L264.2,684.9 L264.5,687.9 L264.9,690.8 L265.2,693.8 L265.6,696.8 L266.0,699.8 L266.3,702.8 L266.7,705.7 L267.1,708.7 L267.4,711.7 L267.8,714.7 L268.2,717.6 L268.5,720.6 L268.9,723.6 L269.3,726.6 L269.7,729.6 L270.0,732.5 L270.4,735.5 L270.8,738.5 L271.1,741.5 L271.5,744.4 L271.9,747.4 L272.3,750.4 L272.7,753.4 L273.0,756.3 L273.4,759.3 L273.8,762.3 L274.2,765.3 L274.6,768.2 L275.0,771.2 L275.3,774.2 L275.7,777.2 L276.1,780.1 L276.5,783.1 L276.9,786.1 L277.3,789.1 L277.7,792.0 L278.1,795.0 L278.6,798.0 L279.0,800.9 L279.5,803.9 L279.9,806.9 L280.4,809.8 L280.9,812.8 L281.4,815.8 L281.9,818.7 L282.3,821.7 L282.8,824.6 L283.3,827.6 L283.8,830.6 L284.3,833.5 L284.8,836.5 L285.3,839.4 L285.8,842.4 L286.3,845.3 L286.9,848.3 L287.5,851.2 L288.1,854.2 L288.7,857.1 L289.4,860.0 L290.1,862.9 L290.8,865.8 L291.5,868.7 L292.3,871.6 L293.0,874.6 L293.8,877.5 L294.5,880.4 L295.2,883.3 L296.0,886.2 L296.8,889.1 L297.6,891.9 L298.5,894.8 L299.5,897.6 L300.5,900.4 L301.6,903.2 L302.7,906.0 L303.9,908.8 L305.1,911.5 L306.3,914.2 L307.5,917.0 L308.8,919.7 L310.1,922.4 L311.5,925.0 L312.9,927.6 L314.4,930.2 L316.0,932.8 L317.6,935.3 L319.3,937.8 L321.0,940.2 L322.8,942.5 L324.7,944.8 L326.7,947.0 L328.8,949.1 L331.0,951.0 L333.3,952.9 L335.7,954.6 L338.1,956.2 L340.7,957.7 L343.3,958.9 L346.0,960.0 L348.8,960.9 L351.6,961.7 L354.5,962.4 L357.4,963.0 L360.4,963.5 L363.3,963.9 L366.3,964.2 L369.3,964.4 L372.3,964.5 L375.3,964.6 L378.2,964.7 L381.2,964.7 L384.2,964.8 L387.2,964.9 L390.2,965.0 L393.2,965.3 L396.1,965.6 L399.0,966.1 L402.0,966.7 L404.9,967.4 L407.7,968.1 L410.6,968.9 L413.5,969.7 L416.4,970.6 L419.3,971.5 L422.1,972.3 L425.0,973.2 L427.9,974.0 L430.7,974.9 L433.6,975.8 L436.5,976.6 L439.4,977.5 L442.2,978.4 L445.1,979.2 L448.0,980.1 L450.9,980.9 L453.8,981.7 L456.6,982.5 L459.5,983.3 L462.5,984.0 L465.4,984.6 L468.3,985.3 L471.2,985.8 L474.2,986.4 L477.1,986.9 L480.1,987.4 L483.1,987.9 L486.0,988.4 L489.0,988.8 L491.9,989.1 L494.9,989.4 L497.9,989.6 L500.9,989.8 L503.9,989.9 L506.9,989.9 L509.9,989.9 L512.9,989.8 L515.8,989.6 L518.8,989.4 L521.8,989.1 L524.8,988.8 L527.7,988.4 L530.7,988.0 L533.7,987.6 L536.6,987.2 L539.6,986.8 L542.6,986.4 L545.6,986.1 L548.5,985.8 L551.5,985.6 L554.5,985.4 L557.5,985.2 L560.5,985.1 L563.5,984.9 L566.5,984.8 L569.5,984.7 L572.5,984.6 L575.5,984.5 L578.5,984.4 L581.5,984.4 L584.5,984.3 L587.5,984.3 L590.5,984.3 L593.5,984.3 L596.5,984.3 L599.5,984.3 L602.5,984.3 L605.5,984.3 L608.5,984.3 L611.5,984.3 L614.5,984.3 L617.5,984.3 L620.5,984.3 L623.5,984.3 L626.5,984.3 L629.5,984.3 L632.5,984.3 L635.5,984.3 L638.5,984.3 L641.5,984.3 L644.5,984.2 L647.5,984.2 L650.5,984.1 L653.5,984.1 L656.5,984.0 L659.5,983.9 L662.5,983.8 L665.5,983.7 L668.5,983.6 L671.5,983.4 L674.5,983.3 L677.5,983.2 L680.5,983.1 L683.5,983.0 L686.5,982.9 L689.5,982.7 L692.5,982.6 L695.5,982.5 L698.4,982.3 L701.4,982.2 L704.4,982.0 L707.4,981.8 L710.4,981.6 L713.4,981.3 L716.4,981.0 L719.4,980.7 L722.4,980.4 L725.3,980.1 L728.3,979.7 L731.3,979.4 L734.3,979.0 L737.3,978.7 L740.2,978.4 L743.2,978.0 L746.2,977.7 L749.2,977.3 L752.2,977.0 L755.1,976.6 L758.1,976.3 L761.1,976.0 L764.1,975.6 L767.1,975.3 L770.0,974.9 L773.0,974.6 L776.0,974.2 L779.0,973.9 L782.0,973.6 L784.9,973.2 L787.9,972.9 L790.9,972.5 L793.9,972.2 L796.9,971.9 L799.9,971.6 L802.8,971.3 L805.8,971.0 L808.8,970.7 L811.8,970.4 L814.8,970.1 L817.8,969.9 L820.8,969.6 L823.7,969.3 L826.7,969.1 L829.7,968.8 L832.7,968.5 L835.7,968.2 L838.7,968.0 L841.7,967.7 L844.7,967.4 L847.6,967.2 L850.6,966.9 L853.6,966.6 L856.6,966.3 L859.6,966.1 L862.6,965.8 L865.6,965.5 L868.6,965.3 L871.5,965.0 L874.5,964.7 L877.5,964.5 L880.5,964.2 L883.5,963.9 L886.5,963.7 L889.5,963.4 L892.5,963.2 L895.5,962.9 L898.5,962.7 L901.4,962.5 L904.4,962.2 L907.4,962.0 L910.4,961.7 L913.4,961.5 L916.4,961.3 L919.4,961.0 L922.4,960.8 L925.4,960.5 L928.4,960.3 L931.3,960.1 L934.3,959.8 L937.3,959.6 L940.3,959.4 L943.3,959.1 L946.3,958.9 L949.3,958.6 L952.3,958.4 L955.3,958.1 L958.3,957.9 L961.2,957.6 L964.2,957.4 L967.2,957.1 L970.2,956.8 L973.2,956.5 L976.2,956.2 L979.2,955.9 L982.1,955.5 L985.1,955.2 L988.1,954.9 L991.1,954.5 L994.1,954.2 L997.0,953.9 L1000.0,953.6 L1003.0,953.2 L1006.0,952.9 L1009.0,952.6 L1012.0,952.2 L1014.9,951.9 L1017.9,951.6 L1020.9,951.3 L1023.9,950.9 L1026.9,950.6 L1029.8,950.2 L1032.8,949.9 L1035.8,949.5 L1038.8,949.1 L1041.8,948.7 L1044.7,948.3 L1047.7,947.9 L1050.7,947.5 L1053.6,947.0 L1056.6,946.6 L1059.6,946.1 L1062.5,945.7 L1065.5,945.2 L1068.5,944.8 L1071.4,944.3 L1074.4,943.9 L1077.4,943.4 L1080.3,943.0 L1083.3,942.5 L1086.2,942.1 L1089.2,941.6 L1092.2,941.2 L1095.1,940.7 L1098.1,940.2 L1101.1,939.8 L1104.0,939.3 L1107.0,938.9 L1110.0,938.4 L1112.9,938.0 L1115.9,937.5 L1118.9,937.1 L1121.8,936.6 L1124.8,936.2 L1127.8,935.8 L1130.7,935.4 L1133.7,935.0 L1136.7,934.6 L1139.7,934.2 L1142.6,933.8 L1145.6,933.4 L1148.6,933.0 L1151.6,932.6 L1154.5,932.2 L1157.5,931.8 L1160.5,931.5 L1163.5,931.1 L1166.4,930.7 L1169.4,930.3 L1172.4,929.9 L1175.4,929.5 L1178.3,929.2 L1181.3,928.8 L1184.3,928.4 L1187.3,928.0 L1190.2,927.6 L1193.2,927.2 L1196.2,926.9 L1199.2,926.5 L1202.1,926.1 L1205.1,925.7 L1208.1,925.3 L1211.1,924.9 L1214.0,924.5 L1217.0,924.2 L1218.0,924.0"/>
<path stroke="#0000ff" d="M105.5,461.0 L106.2,458.1 L107.0,455.2 L107.7,452.3 L108.4,449.4 L109.2,446.5 L109.9,443.5 L110.6,440.6 L111.3,437.7 L112.0,434.8 L112.7,431.9 L113.4,429.0 L114.1,426.0 L114.7,423.1 L115.3,420.2 L116.0,417.2 L116.6,414.3 L117.2,411.4 L117.8,408.4 L118.5,405.5 L119.1,402.6 L119.7,399.6 L120.3,396.7 L120.9,393.8 L121.6,390.8 L122.2,387.9 L122.8,385.0 L123.4,382.0 L124.1,379.1 L124.7,376.2 L125.3,373.2 L125.9,370.3 L126.5,367.4 L127.2,364.4 L127.8,361.5 L128.4,358.5 L129.0,355.6 L129.6,352.7 L130.2,349.7 L130.8,346.8 L131.4,343.8 L132.0,340.9 L132.5,338.0 L133.1,335.0 L133.7,332.1 L134.2,329.1 L134.7,326.2 L135.3,323.2 L135.8,320.3 L136.3,317.3 L136.8,314.3 L137.3,311.4 L137.8,308.4 L138.3,305.5 L138.8,302.5 L139.3,299.6 L139.8,296.6 L140.2,293.6 L140.7,290.7 L141.1,287.7 L141.6,284.7 L142.0,281.8 L142.5,278.8 L142.9,275.8 L143.3,272.8 L143.7,269.9 L144.1,266.9 L144.4,263.9 L144.8,260.9 L145.1,258.0 L145.5,255.0 L145.8,252.0 L146.1,249.0 L146.5,246.0 L146.8,243.1 L147.1,240.1 L147.5,237.1 L147.8,234.1 L148.2,231.1 L148.6,228.2 L149.0,225.2 L149.4,222.2 L149.9,219.3 L150.4,216.3 L151.0,213.4 L151.5,210.4 L152.0,207.5 L152.5,204.5 L153.1,201.6 L153.6,198.6 L154.1,195.6 L154.6,192.7 L155.2,189.7 L155.7,186.8 L156.3,183.8 L156.9,180.9 L157.5,178.0 L158.3,175.1 L159.0,172.2 L159.8,169.3 L160.5,166.4 L161.3,163.5 L162.1,160.6 L162.8,157.7 L163.6,154.8 L164.4,151.9 L165.3,149.0 L166.4,146.2 L167.5,143.4 L168.7,140.7 L169.8,137.9 L171.0,135.1 L172.2,132.4 L173.7,129.9 L175.7,127.7 L177.8,125.5 L180.0,123.5 L182.4,121.9 L185.1,120.7 L187.9,119.9 L190.8,119.8 L193.8,120.3 L196.7,120.8 L199.6,121.4 L202.5,122.2 L205.3,123.3 L208.0,124.6 L210.7,125.9 L213.3,127.4 L215.7,129.1 L218.1,130.9 L220.4,132.8 L222.7,134.8 L224.8,136.9 L226.7,139.2 L228.6,141.5 L230.4,143.9 L231.9,146.4 L233.1,149.2 L234.2,152.0 L235.4,154.7 L236.5,157.5 L237.5,160.3 L238.5,163.2 L239.4,166.0 L240.2,168.9 L241.1,171.8 L241.9,174.7 L242.6,177.6 L243.3,180.5 L243.9,183.4 L244.5,186.4 L245.1,189.3 L245.7,192.3 L246.3,195.2 L246.9,198.1 L247.4,201.1 L247.9,204.1 L248.3,207.0 L248.7,210.0 L249.1,213.0 L249.5,215.9 L249.9,218.9 L250.3,221.9 L250.7,224.9 L251.1,227.8 L251.5,230.8 L251.9,233.8 L252.3,236.8 L252.7,239.7 L253.1,242.7 L253.5,245.7 L253.8,248.7 L254.2,251.6 L254.6,254.6 L255.0,257.6 L255.3,260.6 L255.6,263.5 L255.9,266.5 L256.2,269.5 L256.5,272.5 L256.7,275.5 L256.9,278.5 L257.1,281.5 L257.3,284.5 L257.5,287.5 L257.7,290.5 L257.9,293.5 L258.1,296.4 L258.3,299.4 L258.5,302.4 L258.8,305.4 L259.0,308.4 L259.3,311.4 L259.5,314.4 L259.7,317.4 L260.0,320.4 L260.3,323.4 L260.5,326.3 L260.8,329.3 L261.0,332.3 L261.3,335.3 L261.5,338.3 L261.8,341.3 L262.0,344.3 L262.3,347.3 L262.5,350.3 L262.8,353.3 L263.0,356.2 L263.3,359.2 L263.5,362.2 L263.7,365.2 L264.0,368.2 L264.2,371.2 L264.5,374.2 L264.7,377.2 L265.0,380.2 L265.2,383.2 L265.4,386.1 L265.7,389.1 L265.9,392.1 L266.1,395.1 L266.3,398.1 L266.5,401.1 L266.6,404.1 L266.8,407.1 L267.0,410.1 L267.1,413.1 L267.3,416.1 L267.4,419.1 L267.6,422.1 L267.7,425.1 L267.9,428.1 L268.1,431.1 L268.2,434.1 L268.4,437.1 L268.6,440.0 L268.7,443.0 L268.9,446.0 L269.1,449.0 L269.3,452.0 L269.5,455.0 L269.7,458.0 L269.9,461.0 L270.1,464.0 L270.3,467.0 L270.5,470.0 L270.7,473.0 L270.9,476.0 L271.1,479.0 L271.3,482.0 L271.5,485.0 L271.7,487.9 L271.9,490.9 L272.1,493.9 L272.3,496.9 L272.5,499.9 L272.7,502.9 L272.9,505.9 L273.1,508.9 L273.3,511.9 L273.5,514.9 L273.8,517.9 L274.0,520.9 L274.2,523.9 L274.4,526.8 L274.7,529.8 L274.9,532.8 L275.1,535.8 L275.3,538.8 L275.6,541.8 L275.8,544.8 L276.0,547.8 L276.2,550.8 L276.4,553.8 L276.7,556.8 L276.9,559.8 L277.1,562.7 L277.4,565.7 L277.6,568.7 L277.8,571.7 L278.1,574.7 L278.3,577.7 L278.5,580.7 L278.8,583.7 L279.0,586.7 L279.3,589.7 L279.5,592.7 L279.7,595.6 L280.0,598.6 L280.2,601.6 L280.5,604.6 L280.7,607.6 L280.9,610.6 L281.2,613.6 L281.4,616.6 L281.6,619.6 L281.8,622.6 L282.1,625.6 L282.3,628.5 L282.5,631.5 L282.7,634.5 L283.0,637.5 L283.2,640.5 L283.5,643.5 L283.7,646.5 L284.0,649.5 L284.3,652.5 L284.6,655.4 L284.9,658.4 L285.2,661.4 L285.5,664.4 L285.8,667.4 L286.1,670.4 L286.4,673.4 L286.7,676.3 L287.0,679.3 L287.3,682.3 L287.7,685.3 L288.0,688.3 L288.3,691.3 L288.6,694.2 L288.9,697.2 L289.3,700.2 L289.7,703.2 L290.1,706.1 L290.5,709.1 L290.9,712.1 L291.4,715.0 L291.8,718.0 L292.3,721.0 L292.8,723.9 L293.3,726.9 L293.8,729.8 L294.3,732.8 L294.8,735.8 L295.3,738.7 L295.8,741.7 L296.3,744.6 L296.8,747.6 L297.4,750.5 L298.0,753.5 L298.6,756.4 L299.2,759.3 L299.9,762.2 L300.6,765.2 L301.3,768.1 L302.0,771.0 L302.8,773.9 L303.5,776.8 L304.2,779.7 L304.9,782.6 L305.7,785.5 L306.4,788.4 L307.2,791.3 L308.0,794.2 L308.9,797.1 L309.7,800.0 L310.6,802.8 L311.6,805.7 L312.5,808.5 L313.5,811.4 L314.5,814.2 L315.5,817.0 L316.5,819.8 L317.6,822.6 L318.8,825.4 L319.9,828.1 L321.1,830.9 L322.4,833.6 L323.7,836.3 L325.0,839.0 L326.4,841.7 L327.7,844.3 L329.1,847.0 L330.6,849.6 L332.1,852.2 L333.6,854.7 L335.2,857.3 L336.9,859.7 L338.6,862.2 L340.4,864.6 L342.2,866.9 L344.1,869.2 L346.1,871.5 L348.1,873.7 L350.1,875.8 L352.3,877.9 L354.6,879.8 L356.9,881.7 L359.2,883.5 L361.7,885.2 L364.2,886.8 L366.7,888.4 L369.3,889.9 L371.9,891.3 L374.6,892.7 L377.3,893.9 L380.0,895.2 L382.7,896.5 L385.4,897.7 L388.2,898.9 L390.9,900.1 L393.7,901.4 L396.4,902.6 L399.1,903.8 L401.9,905.1 L404.6,906.3 L407.3,907.6 L410.0,908.9 L412.7,910.1 L415.5,911.4 L418.2,912.6 L421.0,913.8 L423.7,915.0 L426.5,916.1 L429.2,917.3 L432.0,918.4 L434.8,919.5 L437.6,920.6 L440.4,921.6 L443.3,922.6 L446.1,923.4 L449.0,924.3 L451.9,925.0 L454.8,925.7 L457.7,926.2 L460.7,926.8 L463.6,927.2 L466.6,927.6 L469.6,927.9 L472.5,928.1 L475.5,928.3 L478.5,928.4 L481.5,928.5 L484.5,928.5 L487.5,928.5 L490.5,928.5 L493.5,928.5 L496.5,928.4 L499.5,928.3 L502.5,928.1 L505.4,927.8 L508.4,927.5 L511.3,927.0 L514.3,926.5 L517.2,925.8 L520.1,925.1 L523.0,924.3 L525.8,923.5 L528.7,922.7 L531.6,921.9 L534.5,921.1 L537.4,920.2 L540.3,919.4 L543.2,918.6 L546.1,917.8 L549.0,917.1 L551.9,916.3 L554.8,915.6 L557.7,914.9 L560.6,914.2 L563.5,913.5 L566.4,912.9 L569.4,912.2 L572.3,911.6 L575.3,911.0 L578.2,910.5 L581.1,909.9 L584.1,909.3 L587.0,908.8 L590.0,908.3 L593.0,907.9 L595.9,907.5 L598.9,907.1 L601.9,906.7 L604.9,906.4 L607.8,906.1 L610.8,905.8 L613.8,905.5 L616.8,905.2 L619.8,905.0 L622.8,904.7 L625.8,904.5 L628.7,904.2 L631.7,904.0 L634.7,903.7 L637.7,903.5 L640.7,903.2 L643.7,902.8 L646.7,902.5 L649.6,902.1 L652.6,901.7 L655.6,901.3 L658.6,900.9 L661.5,900.5 L664.5,900.1 L667.5,899.7 L670.4,899.3 L673.4,898.9 L676.4,898.5 L679.4,898.1 L682.3,897.7 L685.3,897.2 L688.3,896.8 L691.2,896.4 L694.2,896.0 L697.2,895.5 L700.1,895.0 L703.1,894.5 L706.0,893.9 L708.9,893.3 L711.9,892.6 L714.8,891.9 L717.7,891.2 L720.6,890.5 L723.5,889.7 L726.4,888.9 L729.3,888.2 L732.2,887.4 L735.1,886.7 L738.0,885.9 L740.9,885.2 L743.8,884.4 L746.7,883.6 L749.6,882.9 L752.5,882.1 L755.4,881.3 L758.3,880.6 L761.2,879.8 L764.1,879.0 L767.0,878.3 L769.9,877.5 L772.8,876.7 L775.7,875.9 L778.6,875.1 L781.5,874.2 L784.3,873.4 L787.2,872.6 L790.1,871.8 L793.0,870.9 L795.9,870.1 L798.8,869.3 L801.7,868.5 L804.5,867.6 L807.4,866.8 L810.3,866.0 L813.2,865.2 L816.1,864.3 L819.0,863.5 L821.8,862.7 L824.7,861.8 L827.6,861.0 L830.5,860.1 L833.3,859.3 L836.2,858.4 L839.1,857.5 L841.9,856.6 L844.8,855.6 L847.6,854.7 L850.5,853.8 L853.3,852.8 L856.2,851.9 L859.0,850.9 L861.9,850.0 L864.7,849.0 L867.6,848.1 L870.4,847.1 L873.3,846.2 L876.1,845.3 L878.9,844.3 L881.8,843.4 L884.6,842.4 L887.5,841.5 L890.3,840.5 L893.2,839.6 L896.0,838.6 L898.9,837.7 L901.7,836.8 L904.6,835.8 L907.4,834.9 L910.3,834.0 L913.1,833.1 L916.0,832.1 L918.9,831.2 L921.7,830.3 L924.6,829.4 L927.4,828.5 L930.3,827.5 L933.1,826.6 L936.0,825.7 L938.8,824.8 L941.7,823.9 L944.6,822.9 L947.4,822.0 L950.3,821.1 L953.1,820.2 L956.0,819.3 L958.8,818.3 L961.7,817.4 L964.5,816.4 L967.4,815.5 L970.2,814.5 L973.1,813.6 L975.9,812.6 L978.7,811.6 L981.6,810.7 L984.4,809.7 L987.2,808.7 L990.1,807.7 L992.9,806.8 L995.8,805.8 L998.6,804.8 L1001.4,803.8 L1004.3,802.8 L1007.1,801.9 L1009.9,800.9 L1012.8,799.9 L1015.6,798.9 L1018.4,798.0 L1021.3,797.0 L1024.1,796.0 L1026.9,795.0 L1029.8,794.0 L1032.6,793.0 L1035.4,792.1 L1038.3,791.1 L1041.1,790.1 L1043.9,789.1 L1046.8,788.1 L1049.6,787.1 L1052.4,786.1 L1055.2,785.0 L1058.1,784.0 L1060.9,783.0 L1063.7,782.0 L1066.5,781.0 L1069.4,780.0 L1072.2,779.0 L1075.0,778.0 L1077.9,777.0 L1080.7,776.0 L1083.5,775.0 L1086.3,774.0 L1089.2,773.0 L1092.0,771.9 L1094.8,770.9 L1097.6,769.9 L1100.4,768.8 L1103.2,767.8 L1106.0,766.7 L1108.8,765.6 L1111.6,764.5 L1114.4,763.4 L1117.2,762.3 L1120.0,761.2 L1122.8,760.1 L1125.5,758.9 L1128.3,757.8 L1131.1,756.7 L1133.9,755.6 L1136.7,754.5 L1139.5,753.4 L1142.2,752.2 L1145.0,751.1 L1147.8,750.0 L1150.6,748.9 L1153.4,747.8 L1156.2,746.7 L1159.0,745.6 L1161.7,744.4 L1164.5,743.3 L1167.3,742.2 L1170.1,741.1 L1172.9,739.9 L1175.6,738.8 L1178.4,737.7 L1181.2,736.6 L1184.0,735.4 L1186.8,734.3 L1189.5,733.2 L1192.3,732.0 L1195.1,730.9 L1197.9,729.8 L1200.7,728.7 L1203.4,727.5 L1206.2,726.4 L1209.0,725.3 L1211.8,724.1 L1214.6,723.0 L1217.3,721.9 L1218.3,721.5"/>
<path stroke="#000000" d="M105.5,474.0 L106.3,471.1 L107.0,468.2 L107.8,465.3 L108.5,462.4 L109.3,459.5 L110.1,456.6 L110.9,453.7 L111.6,450.8 L112.4,447.9 L113.1,445.0 L113.9,442.1 L114.6,439.2 L115.3,436.3 L116.0,433.3 L116.7,430.4 L117.3,427.5 L117.9,424.6 L118.6,421.6 L119.2,418.7 L119.8,415.8 L120.4,412.8 L121.1,409.9 L121.7,406.9 L122.3,404.0 L122.9,401.1 L123.5,398.1 L124.2,395.2 L124.8,392.3 L125.4,389.3 L126.1,386.4 L126.7,383.5 L127.3,380.5 L127.9,377.6 L128.6,374.7 L129.2,371.7 L129.8,368.8 L130.5,365.9 L131.1,363.0 L131.8,360.0 L132.4,357.1 L133.1,354.2 L133.7,351.2 L134.3,348.3 L134.9,345.4 L135.5,342.4 L136.1,339.5 L136.6,336.5 L137.1,333.6 L137.6,330.6 L138.0,327.6 L138.5,324.7 L139.0,321.7 L139.4,318.7 L139.9,315.8 L140.3,312.8 L140.8,309.8 L141.2,306.9 L141.6,303.9 L142.1,300.9 L142.5,298.0 L142.9,295.0 L143.3,292.0 L143.7,289.1 L144.1,286.1 L144.5,283.1 L144.9,280.1 L145.2,277.2 L145.6,274.2 L145.9,271.2 L146.3,268.2 L146.6,265.2 L147.0,262.3 L147.3,259.3 L147.7,256.3 L148.0,253.3 L148.4,250.3 L148.7,247.4 L149.1,244.4 L149.5,241.4 L149.9,238.4 L150.3,235.5 L150.8,232.5 L151.3,229.6 L151.8,226.6 L152.4,223.7 L153.0,220.7 L153.6,217.8 L154.2,214.8 L154.8,211.9 L155.4,209.0 L156.0,206.0 L156.6,203.1 L157.3,200.2 L158.0,197.3 L158.8,194.4 L159.5,191.5 L160.3,188.6 L161.1,185.7 L161.9,182.8 L162.7,179.9 L163.5,177.0 L164.5,174.2 L165.6,171.4 L166.7,168.6 L167.8,165.8 L169.0,163.1 L170.6,160.6 L172.7,158.5 L175.1,156.8 L177.8,155.9 L180.7,155.7 L183.5,156.5 L186.1,157.9 L188.2,159.9 L190.2,162.2 L192.0,164.6 L193.7,167.0 L195.4,169.5 L197.1,172.0 L198.7,174.5 L200.4,177.0 L201.9,179.6 L203.5,182.1 L205.0,184.7 L206.6,187.3 L208.1,189.9 L209.6,192.5 L211.0,195.1 L212.4,197.8 L213.8,200.5 L215.1,203.1 L216.4,205.8 L217.8,208.5 L219.1,211.2 L220.4,213.9 L221.7,216.6 L222.9,219.3 L224.2,222.1 L225.4,224.8 L226.7,227.5 L227.8,230.3 L229.0,233.1 L230.1,235.9 L231.1,238.7 L232.1,241.5 L233.1,244.3 L234.1,247.1 L235.0,250.0 L235.9,252.8 L236.8,255.7 L237.6,258.6 L238.4,261.5 L239.1,264.4 L239.8,267.3 L240.4,270.2 L241.0,273.2 L241.6,276.1 L242.1,279.1 L242.6,282.0 L243.1,285.0 L243.5,288.0 L244.0,290.9 L244.4,293.9 L244.8,296.9 L245.3,299.8 L245.7,302.8 L246.1,305.8 L246.6,308.7 L247.0,311.7 L247.5,314.7 L247.9,317.6 L248.3,320.6 L248.8,323.6 L249.2,326.5 L249.7,329.5 L250.1,332.5 L250.5,335.4 L250.9,338.4 L251.3,341.4 L251.7,344.4 L252.1,347.3 L252.5,350.3 L252.9,353.3 L253.3,356.3 L253.7,359.2 L254.1,362.2 L254.5,365.2 L254.9,368.2 L255.2,371.1 L255.6,374.1 L256.0,377.1 L256.3,380.1 L256.7,383.0 L257.0,386.0 L257.3,389.0 L257.6,392.0 L258.0,395.0 L258.3,398.0 L258.6,400.9 L258.9,403.9 L259.2,406.9 L259.4,409.9 L259.7,412.9 L260.0,415.9 L260.3,418.9 L260.6,421.8 L260.9,424.8 L261.2,427.8 L261.5,430.8 L261.8,433.8 L262.1,436.8 L262.4,439.7 L262.7,442.7 L263.0,445.7 L263.2,448.7 L263.4,451.7 L263.7,454.7 L263.8,457.7 L264.0,460.7 L264.2,463.7 L264.3,466.7 L264.5,469.7 L264.7,472.7 L264.8,475.7 L265.0,478.7 L265.1,481.7 L265.3,484.6 L265.4,487.6 L265.6,490.6 L265.7,493.6 L265.9,496.6 L266.1,499.6 L266.2,502.6 L266.4,505.6 L266.6,508.6 L266.8,511.6 L267.0,514.6 L267.2,517.6 L267.4,520.6 L267.6,523.6 L267.8,526.6 L268.0,529.6 L268.2,532.6 L268.4,535.6 L268.6,538.5 L268.8,541.5 L269.0,544.5 L269.2,547.5 L269.4,550.5 L269.6,553.5 L269.8,556.5 L270.0,559.5 L270.2,562.5 L270.3,565.5 L270.5,568.5 L270.7,571.5 L270.9,574.5 L271.1,577.5 L271.3,580.5 L271.5,583.4 L271.7,586.4 L271.9,589.4 L272.1,592.4 L272.3,595.4 L272.5,598.4 L272.7,601.4 L273.0,604.4 L273.2,607.4 L273.4,610.4 L273.7,613.4 L273.9,616.4 L274.1,619.4 L274.4,622.3 L274.6,625.3 L274.9,628.3 L275.1,631.3 L275.4,634.3 L275.6,637.3 L275.9,640.3 L276.1,643.3 L276.4,646.3 L276.6,649.2 L276.9,652.2 L277.2,655.2 L277.4,658.2 L277.7,661.2 L277.9,664.2 L278.2,667.2 L278.5,670.2 L278.7,673.2 L279.0,676.1 L279.2,679.1 L279.5,682.1 L279.8,685.1 L280.0,688.1 L280.3,691.1 L280.5,694.1 L280.8,697.1 L281.1,700.1 L281.4,703.0 L281.7,706.0 L282.0,709.0 L282.3,712.0 L282.6,715.0 L283.0,718.0 L283.3,720.9 L283.6,723.9 L284.0,726.9 L284.3,729.9 L284.6,732.9 L285.0,735.8 L285.3,738.8 L285.7,741.8 L286.0,744.8 L286.3,747.8 L286.7,750.7 L287.0,753.7 L287.4,756.7 L287.8,759.7 L288.1,762.7 L288.5,765.6 L288.9,768.6 L289.3,771.6 L289.7,774.5 L290.1,777.5 L290.5,780.5 L290.9,783.5 L291.4,786.4 L291.8,789.4 L292.2,792.4 L292.7,795.3 L293.2,798.3 L293.7,801.2 L294.2,804.2 L294.8,807.1 L295.4,810.1 L296.0,813.0 L296.6,815.9 L297.3,818.9 L297.9,821.8 L298.6,824.7 L299.3,827.6 L299.9,830.6 L300.6,833.5 L301.4,836.4 L302.1,839.3 L302.9,842.2 L303.7,845.1 L304.6,847.9 L305.5,850.8 L306.4,853.6 L307.4,856.5 L308.4,859.3 L309.3,862.1 L310.4,865.0 L311.4,867.8 L312.4,870.6 L313.5,873.4 L314.6,876.2 L315.7,879.0 L316.9,881.7 L318.0,884.5 L319.2,887.3 L320.4,890.0 L321.7,892.7 L323.0,895.4 L324.5,898.0 L326.0,900.5 L327.6,903.0 L329.3,905.5 L331.0,907.9 L332.9,910.2 L334.8,912.5 L336.8,914.6 L339.0,916.6 L341.2,918.6 L343.5,920.3 L346.0,922.0 L348.5,923.5 L351.1,924.9 L353.8,926.1 L356.5,927.1 L359.3,928.0 L362.2,928.8 L365.1,929.4 L368.0,930.0 L371.0,930.5 L373.9,930.9 L376.9,931.3 L379.9,931.7 L382.8,932.1 L385.8,932.6 L388.7,933.1 L391.7,933.7 L394.6,934.3 L397.5,935.0 L400.4,935.7 L403.3,936.4 L406.2,937.1 L409.1,937.9 L412.0,938.7 L414.9,939.6 L417.7,940.5 L420.6,941.5 L423.4,942.5 L426.2,943.5 L429.1,944.5 L431.9,945.5 L434.7,946.4 L437.6,947.4 L440.4,948.3 L443.3,949.3 L446.1,950.1 L449.0,951.0 L451.9,951.8 L454.8,952.6 L457.7,953.3 L460.6,954.0 L463.5,954.5 L466.5,955.0 L469.4,955.4 L472.4,955.7 L475.4,956.0 L478.3,956.2 L481.3,956.3 L484.3,956.4 L487.3,956.4 L490.3,956.5 L493.3,956.5 L496.3,956.5 L499.3,956.4 L502.3,956.3 L505.3,956.2 L508.3,956.0 L511.2,955.7 L514.2,955.3 L517.1,954.8 L520.1,954.2 L523.0,953.6 L525.9,953.0 L528.8,952.3 L531.8,951.6 L534.7,951.0 L537.6,950.3 L540.5,949.6 L543.4,948.9 L546.4,948.2 L549.3,947.5 L552.2,946.9 L555.2,946.3 L558.1,945.7 L561.0,945.1 L564.0,944.5 L566.9,944.0 L569.9,943.6 L572.9,943.1 L575.8,942.7 L578.8,942.2 L581.8,941.8 L584.7,941.4 L587.7,941.0 L590.7,940.7 L593.7,940.3 L596.6,940.0 L599.6,939.7 L602.6,939.5 L605.6,939.2 L608.6,939.0 L611.6,938.8 L614.6,938.6 L617.6,938.4 L620.6,938.1 L623.6,937.9 L626.6,937.7 L629.5,937.5 L632.5,937.3 L635.5,937.0 L638.5,936.8 L641.5,936.5 L644.5,936.2 L647.5,935.8 L650.4,935.4 L653.4,935.1 L656.4,934.7 L659.3,934.3 L662.3,933.9 L665.3,933.4 L668.3,933.0 L671.2,932.6 L674.2,932.2 L677.2,931.8 L680.2,931.4 L683.1,931.0 L686.1,930.6 L689.1,930.2 L692.0,929.8 L695.0,929.4 L698.0,928.9 L700.9,928.5 L703.9,928.0 L706.9,927.5 L709.8,927.0 L712.8,926.4 L715.7,925.9 L718.7,925.3 L721.6,924.7 L724.5,924.1 L727.5,923.5 L730.4,922.9 L733.4,922.4 L736.3,921.8 L739.2,921.2 L742.2,920.6 L745.1,920.0 L748.1,919.4 L751.0,918.8 L754.0,918.2 L756.9,917.6 L759.8,917.0 L762.8,916.5 L765.7,915.9 L768.7,915.3 L771.6,914.7 L774.5,914.1 L777.5,913.5 L780.4,912.9 L783.4,912.3 L786.3,911.7 L789.3,911.2 L792.2,910.6 L795.1,910.0 L798.1,909.4 L801.0,908.8 L804.0,908.2 L806.9,907.6 L809.8,907.1 L812.8,906.5 L815.7,905.9 L818.7,905.3 L821.6,904.7 L824.6,904.1 L827.5,903.5 L830.4,902.9 L833.4,902.4 L836.3,901.8 L839.3,901.2 L842.2,900.6 L845.1,900.0 L848.1,899.4 L851.0,898.8 L854.0,898.2 L856.9,897.6 L859.9,897.0 L862.8,896.5 L865.7,895.9 L868.7,895.3 L871.6,894.7 L874.6,894.1 L877.5,893.5 L880.4,892.9 L883.4,892.3 L886.3,891.7 L889.3,891.1 L892.2,890.5 L895.1,889.9 L898.1,889.3 L901.0,888.7 L903.9,888.1 L906.9,887.4 L909.8,886.8 L912.7,886.1 L915.7,885.5 L918.6,884.8 L921.5,884.2 L924.4,883.5 L927.4,882.8 L930.3,882.2 L933.2,881.5 L936.1,880.9 L939.1,880.2 L942.0,879.5 L944.9,878.9 L947.9,878.2 L950.8,877.5 L953.7,876.9 L956.6,876.2 L959.5,875.5 L962.5,874.8 L965.4,874.1 L968.3,873.3 L971.2,872.6 L974.1,871.8 L977.0,871.0 L979.8,870.1 L982.7,869.3 L985.6,868.5 L988.5,867.7 L991.4,866.8 L994.3,866.0 L997.1,865.2 L1000.0,864.4 L1002.9,863.5 L1005.8,862.7 L1008.7,861.9 L1011.6,861.1 L1014.4,860.2 L1017.3,859.4 L1020.2,858.6 L1023.1,857.7 L1026.0,856.9 L1028.9,856.1 L1031.7,855.3 L1034.6,854.4 L1037.5,853.6 L1040.4,852.8 L1043.3,852.0 L1046.2,851.2 L1049.1,850.4 L1052.0,849.6 L1054.9,848.9 L1057.8,848.1 L1060.7,847.4 L1063.6,846.7 L1066.5,845.9 L1069.4,845.2 L1072.3,844.5 L1075.2,843.7 L1078.2,843.0 L1081.1,842.3 L1084.0,841.5 L1086.9,840.8 L1089.8,840.1 L1092.7,839.4 L1095.6,838.6 L1098.5,837.9 L1101.4,837.2 L1104.3,836.4 L1107.3,835.7 L1110.2,835.0 L1113.1,834.3 L1116.0,833.5 L1118.9,832.8 L1121.8,832.1 L1124.7,831.3 L1127.6,830.6 L1130.5,829.9 L1133.4,829.2 L1136.4,828.4 L1139.3,827.7 L1142.2,827.0 L1145.1,826.3 L1148.0,825.5 L1150.9,824.8 L1153.8,824.1 L1156.7,823.3 L1159.6,822.6 L1162.5,821.9 L1165.5,821.2 L1168.4,820.4 L1171.3,819.7 L1174.2,819.0 L1177.1,818.3 L1180.0,817.5 L1182.9,816.8 L1185.8,816.1 L1188.7,815.4 L1191.7,814.6 L1194.6,813.9 L1197.5,813.2 L1200.4,812.5 L1203.3,811.7 L1206.2,811.0 L1209.1,810.3 L1212.0,809.6 L1214.9,808.8 L1217.9,808.1"/>
</g>
<g clip-path="url(#cl)" fill="none" stroke-width="2.5" stroke-dasharray="14 8 3.2 6 3.2 8">
<line stroke="#ff0000" x1="298.9" y1="917.0" x2="336.8" y2="1131.0"/>
<line stroke="#000000" x1="307.9" y1="878.3" x2="345.8" y2="1129.0"/>
<line stroke="#0000ff" x1="316.0" y1="834.0" x2="380.8" y2="1132.5"/>
<line stroke="#808080" x1="341.3" y1="876.6" x2="410.8" y2="1133.5"/>
<line stroke="#000080" x1="336.4" y1="827.7" x2="424.7" y2="1133.5"/>
</g>
<line x1="1146.8" y1="590" x2="1110.5" y2="712" stroke="#808080" stroke-width="2.4"/>
<polygon points="1104.3,734.6 1103.4,707 1116.6,709.5" fill="#808080"/>
<text transform="translate(69.3,1196.3) scale(0.920,1)" font-size="42.5" font-weight="bold" fill="#000" letter-spacing="2.63">300</text>
<text transform="translate(292.8,1196.3) scale(0.920,1)" font-size="42.5" font-weight="bold" fill="#000" letter-spacing="2.47">400</text>
<text transform="translate(513.8,1196.3) scale(0.920,1)" font-size="42.5" font-weight="bold" fill="#000" letter-spacing="2.79">500</text>
<text transform="translate(736.7,1196.3) scale(0.920,1)" font-size="42.5" font-weight="bold" fill="#000" letter-spacing="2.95">600</text>
<text transform="translate(959.3,1196.3) scale(0.920,1)" font-size="42.5" font-weight="bold" fill="#000" letter-spacing="3.06">700</text>
<text transform="translate(1181.5,1196.3) scale(0.920,1)" font-size="42.5" font-weight="bold" fill="#000" letter-spacing="2.85">800</text>
<text x="474.5" y="1263.6" font-size="46.0" font-weight="bold" fill="#000" letter-spacing="0.68">Wavelength (nm)</text>
<text transform="translate(66.3,892.8) rotate(-90)" font-size="54" font-weight="bold" textLength="555.7" lengthAdjust="spacingAndGlyphs">Absorbance (arb. unit)</text>
<text x="516.5" y="288.2" font-size="39.0" font-weight="bold" fill="#800000" letter-spacing="-0.01">(i) WO 0.5</text>
<text x="516.5" y="337.6" font-size="39.0" font-weight="bold" fill="#000080" letter-spacing="-0.06">(ii) WO 1.0</text>
<text x="516.5" y="385.8" font-size="39.0" font-weight="bold" fill="#808080" letter-spacing="0.01">(iii) WO 2.0</text>
<text x="516.5" y="436.4" font-size="39.0" font-weight="bold" fill="#ff0000" letter-spacing="-0.07">(iv) WO 0.5 + ZnO 2.0</text>
<text x="516.5" y="485.8" font-size="39.0" font-weight="bold" fill="#0000ff" letter-spacing="-0.06">(v) WO 1.0 + ZnO 2.0</text>
<text x="516.5" y="534.0" font-size="39.0" font-weight="bold" fill="#000000" letter-spacing="-0.07">(vi) WO 2.0 + ZnO 2.0</text>
<text transform="translate(1128.2,102.5) scale(0.920,1)" font-size="60.4" font-weight="bold" fill="#000" letter-spacing="4.70">(a)</text>
<text transform="translate(142.8,80.9) scale(0.930,1)" font-size="42.5" font-weight="bold" fill="#808080" letter-spacing="2.45">(iii)</text>
<text transform="translate(266.9,248.6) scale(0.930,1)" font-size="41.9" font-weight="bold" fill="#0000ff" letter-spacing="4.05">(v)</text>
<text transform="translate(147.0,290.2) scale(0.930,1)" font-size="41.9" font-weight="bold" fill="#000080" letter-spacing="2.48">(ii)</text>
<text transform="translate(141.2,477.8) scale(0.930,1)" font-size="42.0" font-weight="bold" fill="#ff0000" letter-spacing="2.60">(iv)</text>
<text transform="translate(166.6,1039.5) scale(0.930,1)" font-size="41.0" font-weight="bold" fill="#800000" letter-spacing="2.04">(i)</text>
<text transform="translate(1110.7,570.1) scale(0.930,1)" font-size="41.5" font-weight="bold" fill="#808080" letter-spacing="2.57">(iii)</text>
<text transform="translate(1002.6,709.9) scale(0.930,1)" font-size="40.6" font-weight="bold" fill="#000080" letter-spacing="2.35">(ii)</text>
<text transform="translate(1009.9,833.1) scale(0.930,1)" font-size="41.9" font-weight="bold" fill="#0000ff" letter-spacing="2.76">(v)</text>
<text transform="translate(1009.9,905.5) scale(0.930,1)" font-size="40.8" font-weight="bold" fill="#000000" letter-spacing="3.35">(vi)</text>
<text transform="translate(1018.5,997.5) scale(0.930,1)" font-size="40.8" font-weight="bold" fill="#ff0000" letter-spacing="2.45">(iv)</text>
<text transform="translate(1157.9,1061.2) scale(0.930,1)" font-size="40.6" font-weight="bold" fill="#800000" letter-spacing="3.95">(i)</text>
<rect x="1383.2" y="30.8" width="1029.0" height="1104.4" fill="none" stroke="#000" stroke-width="5.5"/>
<rect x="1380.5" y="1135.2" width="5.5" height="16.8" fill="#000"/>
<rect x="1637.8" y="1135.2" width="5.5" height="16.8" fill="#000"/>
<rect x="1894.8" y="1135.2" width="5.5" height="16.8" fill="#000"/>
<rect x="2152.1" y="1135.2" width="5.5" height="16.8" fill="#000"/>
<rect x="2409.4" y="1135.2" width="5.5" height="16.8" fill="#000"/>
<rect x="1509.3" y="1135.2" width="5.5" height="8.8" fill="#000"/>
<rect x="1766.2" y="1135.2" width="5.5" height="8.8" fill="#000"/>
<rect x="2023.2" y="1135.2" width="5.5" height="8.8" fill="#000"/>
<rect x="2280.8" y="1135.2" width="5.5" height="8.8" fill="#000"/>
<g clip-path="url(#cr)" fill="none" stroke-width="6.0" stroke-linejoin="round" stroke-linecap="butt">
<path stroke="#800000" d="M1383.2,976.3 L1386.2,976.1 L1389.2,975.8 L1392.2,975.6 L1395.2,975.4 L1398.2,975.1 L1401.1,974.9 L1404.1,974.7 L1407.1,974.5 L1410.1,974.2 L1413.1,974.0 L1416.1,973.8 L1419.1,973.5 L1422.1,973.3 L1425.1,973.1 L1428.1,972.9 L1431.1,972.8 L1434.1,972.6 L1437.1,972.4 L1440.0,972.2 L1443.0,972.0 L1446.0,971.8 L1449.0,971.6 L1452.0,971.4 L1455.0,971.2 L1458.0,971.0 L1461.0,970.9 L1464.0,970.7 L1467.0,970.5 L1470.0,970.3 L1473.0,970.1 L1476.0,969.9 L1479.0,969.7 L1482.0,969.6 L1485.0,969.4 L1488.0,969.2 L1491.0,969.0 L1493.9,968.9 L1496.9,968.7 L1499.9,968.5 L1502.9,968.3 L1505.9,968.2 L1508.9,968.0 L1511.9,967.8 L1514.9,967.5 L1517.9,967.2 L1520.9,966.8 L1523.8,966.4 L1526.8,966.0 L1529.8,965.6 L1532.8,965.3 L1535.7,964.8 L1538.7,964.4 L1541.7,964.0 L1544.6,963.5 L1547.6,963.1 L1550.6,962.6 L1553.5,962.1 L1556.5,961.6 L1559.4,961.1 L1562.4,960.6 L1565.4,960.1 L1568.3,959.6 L1571.3,959.1 L1574.2,958.5 L1577.2,957.9 L1580.1,957.4 L1583.0,956.8 L1586.0,956.4 L1589.0,956.2 L1592.0,956.1 L1595.0,956.0 L1598.0,955.9 L1601.0,955.8 L1604.0,955.7 L1607.0,955.6 L1610.0,955.5 L1612.9,955.2 L1615.8,954.6 L1618.7,954.4 L1621.5,955.1 L1624.3,955.9 L1627.3,956.3 L1630.3,956.3 L1633.3,956.3 L1636.3,956.3 L1639.3,956.3 L1642.3,956.3 L1645.3,956.3 L1648.3,956.3 L1651.3,956.3 L1654.1,956.6 L1656.6,957.6 L1659.1,958.5 L1662.0,958.7 L1665.0,958.7 L1668.0,958.7 L1671.0,958.7 L1674.0,958.6 L1676.9,958.1 L1679.8,957.4 L1682.7,956.6 L1685.6,955.8 L1688.5,955.0 L1691.4,954.3 L1694.3,953.7 L1697.3,953.1 L1700.2,952.6 L1703.2,952.0 L1706.1,951.4 L1709.1,950.9 L1712.0,950.5 L1715.0,950.0 L1718.0,949.6 L1720.9,949.1 L1723.9,948.5 L1726.8,947.8 L1729.7,947.1 L1732.6,946.4 L1735.5,945.6 L1738.4,944.9 L1741.3,944.2 L1744.2,943.5 L1747.2,942.7 L1750.1,942.0 L1753.0,941.3 L1755.9,940.6 L1758.8,939.8 L1761.7,939.0 L1764.6,938.2 L1767.5,937.4 L1770.4,936.7 L1773.3,935.9 L1776.2,935.1 L1779.1,934.3 L1781.9,933.5 L1784.8,932.6 L1787.7,931.7 L1790.6,930.9 L1793.4,930.0 L1796.3,929.1 L1799.2,928.2 L1802.0,927.3 L1804.9,926.4 L1807.7,925.5 L1810.6,924.6 L1813.4,923.6 L1816.3,922.7 L1819.2,921.8 L1822.1,921.1 L1825.0,920.6 L1828.0,920.0 L1830.9,919.7 L1833.9,919.6 L1836.9,919.6 L1839.9,919.6 L1842.9,919.6 L1845.9,919.6 L1848.9,919.6 L1851.9,919.6 L1854.9,919.6 L1857.9,919.6 L1860.9,919.6 L1863.9,919.6 L1866.9,919.6 L1869.9,919.6 L1872.9,919.6 L1875.9,919.6 L1878.9,919.6 L1881.9,919.6 L1884.9,919.6 L1887.9,919.6 L1890.9,919.6 L1893.9,919.6 L1896.9,919.6 L1899.9,919.6 L1902.9,919.6 L1905.9,919.6 L1908.9,919.6 L1911.9,919.6 L1914.9,919.6 L1917.9,919.6 L1920.9,919.6 L1923.9,919.6 L1926.9,919.6 L1929.9,919.6 L1932.9,919.6 L1935.9,919.5 L1938.9,919.1 L1941.8,918.5 L1944.7,917.8 L1947.6,917.0 L1950.4,916.1 L1953.1,914.8 L1955.8,913.4 L1958.4,912.0 L1961.0,910.5 L1963.7,909.1 L1966.3,907.7 L1969.0,906.3 L1971.7,905.0 L1974.3,903.6 L1977.0,902.3 L1979.7,900.9 L1982.3,899.5 L1984.9,897.9 L1987.4,896.2 L1989.8,894.5 L1992.3,892.8 L1994.7,891.1 L1997.2,889.4 L1999.7,887.7 L2002.2,886.0 L2004.7,884.4 L2007.2,882.7 L2009.7,881.1 L2012.2,879.5 L2014.7,877.8 L2017.2,876.1 L2019.6,874.3 L2022.0,872.5 L2024.4,870.7 L2026.8,868.9 L2029.2,867.1 L2031.7,865.5 L2034.4,864.7 L2037.1,865.2 L2039.8,866.4 L2042.5,867.3 L2045.2,867.1 L2047.9,866.0 L2050.5,864.6 L2053.0,863.0 L2055.5,861.2 L2057.9,859.4 L2060.3,857.6 L2062.7,855.8 L2065.1,854.1 L2067.6,852.3 L2070.0,850.6 L2072.5,848.9 L2074.9,847.2 L2077.4,845.4 L2079.9,843.7 L2082.3,842.1 L2084.9,840.4 L2087.4,838.8 L2089.9,837.1 L2092.4,835.5 L2094.9,833.8 L2097.5,832.3 L2100.2,831.0 L2102.9,829.8 L2105.6,828.5 L2108.4,827.3 L2111.1,826.1 L2113.9,824.9 L2116.6,823.8 L2119.4,822.6 L2122.2,821.5 L2125.0,820.4 L2127.8,819.3 L2130.5,818.1 L2133.2,816.8 L2135.9,815.4 L2138.6,814.1 L2141.3,812.7 L2143.9,811.4 L2146.5,809.9 L2149.0,808.2 L2151.5,806.5 L2153.9,804.8 L2156.4,803.1 L2158.9,801.4 L2161.3,799.6 L2163.7,797.8 L2166.1,796.0 L2168.4,794.1 L2170.8,792.2 L2173.1,790.4 L2175.4,788.5 L2177.8,786.6 L2180.1,784.7 L2182.4,782.8 L2184.7,780.9 L2187.0,778.9 L2189.3,777.0 L2191.6,775.1 L2193.9,773.2 L2196.1,771.2 L2198.2,769.0 L2200.2,766.8 L2202.2,764.5 L2204.2,762.3 L2206.1,760.0 L2208.1,757.7 L2210.1,755.5 L2212.1,753.2 L2214.0,750.9 L2215.9,748.6 L2217.8,746.3 L2219.7,743.9 L2221.5,741.6 L2223.4,739.3 L2225.3,736.9 L2227.1,734.6 L2229.0,732.2 L2230.9,729.9 L2232.8,727.6 L2234.7,725.2 L2236.6,722.9 L2238.5,720.6 L2240.5,718.3 L2242.4,716.0 L2244.3,713.7 L2246.2,711.4 L2248.1,709.1 L2250.1,706.9 L2252.1,704.6 L2254.2,702.4 L2256.2,700.2 L2258.2,698.0 L2260.2,695.8 L2262.2,693.5 L2264.3,691.3 L2266.3,689.2 L2268.4,687.0 L2270.6,684.9 L2272.7,682.8 L2274.8,680.6 L2276.9,678.5 L2279.0,676.4 L2281.2,674.3 L2283.4,672.3 L2285.6,670.3 L2287.8,668.3 L2290.1,666.2 L2292.3,664.2 L2294.5,662.2 L2296.8,660.3 L2299.2,658.5 L2301.7,656.8 L2304.2,655.2 L2306.7,653.6 L2309.2,651.9 L2311.8,650.3 L2314.3,648.8 L2317.0,647.5 L2319.8,646.2 L2322.5,645.0 L2325.2,643.8 L2328.0,642.5 L2330.7,641.4 L2333.5,640.3 L2336.3,639.2 L2339.1,638.2 L2342.0,637.3 L2344.9,636.9 L2347.8,637.0 L2350.8,637.2 L2353.5,637.9 L2355.2,639.7 L2356.5,641.9 L2358.6,643.0 L2361.5,643.2 L2364.5,643.2 L2367.5,643.2 L2370.5,643.2 L2373.5,643.2 L2376.5,643.2 L2379.5,643.2 L2382.5,643.2 L2385.5,643.2 L2388.5,643.2 L2391.5,643.2 L2394.5,643.2 L2397.5,643.2 L2400.5,643.2 L2403.5,643.2 L2406.5,643.2 L2409.5,643.2 L2410.0,643.2"/>
<path stroke="#000080" d="M1383.2,746.5 L1386.2,746.7 L1389.2,746.9 L1392.2,747.1 L1395.2,747.3 L1398.2,747.5 L1401.2,747.8 L1404.1,748.0 L1407.1,748.2 L1410.1,748.4 L1413.1,748.6 L1416.1,748.8 L1419.1,749.0 L1422.1,749.3 L1425.1,749.5 L1428.1,749.7 L1431.1,750.0 L1434.1,750.3 L1437.0,750.5 L1440.0,750.8 L1443.0,751.1 L1446.0,751.4 L1449.0,751.7 L1452.0,752.0 L1455.0,752.2 L1458.0,752.4 L1460.9,752.6 L1463.9,752.7 L1466.9,752.8 L1469.9,752.9 L1472.9,753.0 L1475.9,753.0 L1478.9,753.0 L1481.9,753.0 L1484.9,753.0 L1487.9,753.0 L1490.9,753.0 L1493.9,753.0 L1496.9,753.0 L1499.9,753.0 L1502.9,753.0 L1505.9,753.0 L1508.9,753.0 L1511.9,753.0 L1514.9,753.0 L1517.9,753.0 L1520.9,753.0 L1523.9,753.0 L1526.9,753.0 L1529.9,753.0 L1532.9,753.0 L1535.9,753.0 L1538.9,753.0 L1541.9,753.0 L1544.9,752.9 L1547.9,752.9 L1550.8,752.8 L1553.8,752.6 L1556.7,752.4 L1559.6,752.2 L1562.5,752.0 L1565.4,751.8 L1568.4,751.7 L1571.3,751.6 L1574.3,751.5 L1577.3,751.4 L1580.3,751.4 L1583.3,751.4 L1586.3,751.4 L1589.3,751.4 L1592.3,751.4 L1595.3,751.4 L1598.3,751.4 L1601.3,751.4 L1604.3,751.4 L1607.3,751.4 L1610.3,751.4 L1613.3,751.4 L1616.3,751.4 L1619.3,751.4 L1622.3,751.4 L1625.3,751.4 L1628.3,751.4 L1631.3,751.4 L1634.3,751.4 L1637.3,751.5 L1640.2,751.6 L1643.2,751.7 L1646.2,751.9 L1649.2,752.1 L1652.2,752.5 L1655.1,752.8 L1658.1,753.3 L1661.0,753.7 L1664.0,754.0 L1666.9,754.3 L1669.9,754.5 L1672.9,754.6 L1675.9,754.6 L1678.8,754.5 L1681.8,754.4 L1684.8,754.2 L1687.8,753.9 L1690.8,753.7 L1693.8,753.4 L1696.7,753.0 L1699.7,752.6 L1702.7,752.2 L1705.6,751.7 L1708.6,751.1 L1711.5,750.6 L1714.4,750.0 L1717.4,749.3 L1720.3,748.6 L1723.2,747.9 L1726.1,747.1 L1729.0,746.3 L1731.8,745.5 L1734.7,744.6 L1737.6,743.7 L1740.4,742.8 L1743.3,741.8 L1746.1,740.8 L1748.9,739.8 L1751.7,738.8 L1754.5,737.7 L1757.3,736.7 L1760.1,735.6 L1762.9,734.5 L1765.7,733.3 L1768.5,732.2 L1771.2,731.0 L1773.9,729.7 L1776.6,728.5 L1779.3,727.1 L1782.0,725.8 L1784.7,724.5 L1787.4,723.1 L1790.1,721.8 L1792.8,720.5 L1795.5,719.1 L1798.2,717.8 L1800.9,716.6 L1803.6,715.3 L1806.3,714.0 L1809.0,712.8 L1811.8,711.6 L1814.5,710.3 L1817.3,709.1 L1820.0,707.9 L1822.7,706.6 L1825.5,705.4 L1828.2,704.2 L1830.9,702.9 L1833.6,701.6 L1836.3,700.4 L1839.1,699.1 L1841.8,697.8 L1844.5,696.5 L1847.2,695.2 L1849.9,693.9 L1852.6,692.6 L1855.3,691.3 L1858.0,690.0 L1860.7,688.7 L1863.4,687.3 L1866.0,686.0 L1868.7,684.6 L1871.3,683.2 L1874.0,681.8 L1876.6,680.4 L1879.3,679.0 L1881.9,677.6 L1884.6,676.1 L1887.2,674.7 L1889.8,673.2 L1892.4,671.7 L1895.0,670.2 L1897.6,668.7 L1900.1,667.1 L1902.6,665.4 L1905.1,663.8 L1907.6,662.1 L1910.0,660.3 L1912.4,658.6 L1914.9,656.8 L1917.2,655.0 L1919.6,653.1 L1921.9,651.2 L1924.2,649.3 L1926.5,647.4 L1928.7,645.4 L1930.9,643.4 L1933.1,641.3 L1935.2,639.2 L1937.3,637.1 L1939.4,634.9 L1941.4,632.7 L1943.4,630.4 L1945.4,628.2 L1947.3,625.9 L1949.2,623.6 L1951.1,621.2 L1952.9,618.9 L1954.7,616.5 L1956.5,614.1 L1958.3,611.7 L1960.1,609.2 L1961.9,606.8 L1963.6,604.4 L1965.4,602.0 L1967.1,599.5 L1968.9,597.1 L1970.6,594.7 L1972.4,592.2 L1974.1,589.8 L1975.9,587.4 L1977.6,584.9 L1979.4,582.5 L1981.1,580.0 L1982.9,577.6 L1984.6,575.1 L1986.3,572.7 L1988.1,570.3 L1989.8,567.8 L1991.6,565.4 L1993.3,562.9 L1995.0,560.5 L1996.8,558.0 L1998.5,555.6 L2000.3,553.2 L2002.0,550.7 L2003.7,548.3 L2005.5,545.8 L2007.2,543.4 L2008.9,540.9 L2010.6,538.5 L2012.3,536.0 L2014.0,533.5 L2015.6,531.0 L2017.2,528.4 L2018.8,525.9 L2020.4,523.3 L2022.0,520.8 L2023.6,518.2 L2025.1,515.7 L2026.7,513.1 L2028.3,510.6 L2029.8,508.0 L2031.4,505.5 L2033.0,502.9 L2034.6,500.4 L2036.2,497.8 L2037.8,495.3 L2039.4,492.8 L2041.0,490.2 L2042.6,487.7 L2044.2,485.2 L2045.9,482.7 L2047.5,480.2 L2049.2,477.7 L2050.9,475.2 L2052.6,472.7 L2054.3,470.3 L2056.1,467.8 L2057.8,465.4 L2059.5,462.9 L2061.3,460.5 L2063.0,458.0 L2064.7,455.6 L2066.5,453.2 L2068.2,450.7 L2070.0,448.3 L2071.7,445.8 L2073.5,443.4 L2075.2,441.0 L2077.0,438.5 L2078.7,436.1 L2080.5,433.6 L2082.2,431.2 L2084.0,428.8 L2085.7,426.3 L2087.5,423.9 L2089.2,421.5 L2091.0,419.0 L2092.7,416.6 L2094.4,414.1 L2096.2,411.7 L2097.9,409.3 L2099.7,406.8 L2101.4,404.4 L2103.1,401.9 L2104.9,399.5 L2106.6,397.0 L2108.4,394.6 L2110.1,392.1 L2111.8,389.7 L2113.6,387.2 L2115.3,384.8 L2117.1,382.4 L2118.8,379.9 L2120.6,377.5 L2122.3,375.0 L2124.0,372.6 L2125.7,370.1 L2127.5,367.7 L2129.1,365.2 L2130.8,362.7 L2132.5,360.2 L2134.1,357.7 L2135.7,355.2 L2137.4,352.7 L2139.0,350.1 L2140.6,347.6 L2142.2,345.1 L2143.9,342.6 L2145.6,340.1 L2147.2,337.6 L2149.0,335.2 L2150.7,332.7 L2152.4,330.3 L2154.2,327.8 L2155.9,325.4 L2157.7,323.0 L2159.5,320.6 L2161.3,318.1 L2163.0,315.7 L2164.8,313.3 L2166.6,310.9 L2168.5,308.5 L2170.3,306.1 L2172.1,303.8 L2173.9,301.4 L2175.7,299.0 L2177.5,296.6 L2179.3,294.2 L2181.2,291.8 L2183.0,289.4 L2184.8,287.1 L2186.6,284.7 L2188.5,282.3 L2190.3,279.9 L2192.1,277.6 L2194.0,275.2 L2195.8,272.8 L2197.7,270.5 L2199.6,268.1 L2201.5,265.8 L2203.4,263.5 L2205.3,261.2 L2207.2,258.9 L2209.1,256.6 L2211.1,254.3 L2213.0,252.0 L2215.0,249.8 L2217.0,247.5 L2219.0,245.3 L2221.0,243.0 L2223.0,240.8 L2225.0,238.6 L2227.0,236.4 L2229.0,234.1 L2231.0,231.9 L2233.1,229.7 L2235.1,227.5 L2237.1,225.3 L2239.2,223.1 L2241.3,220.9 L2243.4,218.8 L2245.5,216.8 L2247.6,214.7 L2249.8,212.6 L2252.2,210.7 L2254.6,209.0 L2257.1,207.5 L2259.7,206.0 L2262.4,204.5 L2265.0,203.2 L2267.7,201.9 L2270.5,200.7 L2273.3,199.6 L2276.1,198.5 L2278.9,197.4 L2281.7,196.4 L2284.5,195.5 L2287.5,194.8 L2290.4,194.2 L2293.3,193.6 L2296.2,193.3 L2299.1,193.5 L2302.0,194.1 L2304.9,194.9 L2307.8,195.8 L2310.6,196.8 L2313.4,197.9 L2316.2,199.0 L2318.9,200.2 L2321.7,201.4 L2324.4,202.7 L2327.0,204.2 L2329.5,205.7 L2332.1,207.3 L2334.7,208.8 L2337.2,210.4 L2339.7,212.1 L2342.1,213.9 L2344.4,215.8 L2346.8,217.6 L2349.1,219.5 L2351.4,221.4 L2353.6,223.4 L2355.9,225.4 L2358.1,227.5 L2360.2,229.5 L2362.4,231.6 L2364.5,233.7 L2366.7,235.8 L2368.8,238.0 L2370.9,240.1 L2373.0,242.2 L2375.1,244.3 L2377.3,246.4 L2379.4,248.6 L2381.5,250.7 L2383.7,252.8 L2385.8,254.8 L2388.0,256.9 L2390.2,259.0 L2392.4,261.0 L2394.6,263.0 L2396.8,265.1 L2399.0,267.1 L2401.3,269.1 L2403.5,271.1 L2405.7,273.1 L2408.0,275.0 L2410.3,277.0 L2411.5,278.0"/>
<path stroke="#808080" d="M1383.2,751.4 L1386.2,751.7 L1389.2,752.0 L1392.1,752.4 L1395.1,752.7 L1398.1,753.0 L1401.1,753.3 L1404.1,753.7 L1407.1,754.0 L1410.0,754.3 L1413.0,754.6 L1416.0,754.9 L1419.0,755.2 L1422.0,755.5 L1425.0,755.8 L1427.9,756.1 L1430.9,756.4 L1433.9,756.7 L1436.9,757.0 L1439.9,757.2 L1442.9,757.4 L1445.9,757.6 L1448.9,757.7 L1451.9,757.8 L1454.9,757.8 L1457.9,757.9 L1460.9,757.9 L1463.9,757.9 L1466.9,757.9 L1469.9,757.9 L1472.9,757.9 L1475.9,757.9 L1478.9,757.9 L1481.9,757.9 L1484.9,757.9 L1487.9,757.9 L1490.9,757.9 L1493.9,757.9 L1496.9,757.9 L1499.9,757.9 L1502.9,757.9 L1505.9,757.9 L1508.9,757.9 L1511.9,757.9 L1514.9,757.9 L1517.9,757.9 L1520.9,757.9 L1523.9,757.9 L1526.9,757.9 L1529.9,757.9 L1532.9,757.9 L1535.9,757.9 L1538.9,757.9 L1541.9,757.9 L1544.9,757.9 L1547.9,757.9 L1550.9,757.9 L1553.9,757.9 L1556.9,757.9 L1559.9,757.9 L1562.9,757.9 L1565.9,757.9 L1568.9,757.9 L1571.9,757.9 L1574.9,757.9 L1577.9,757.9 L1580.9,757.9 L1583.9,757.9 L1586.9,757.9 L1589.9,757.9 L1592.9,757.9 L1595.9,757.9 L1598.9,757.9 L1601.9,757.9 L1604.9,757.9 L1607.9,757.9 L1610.9,757.9 L1613.9,757.9 L1616.9,757.9 L1619.9,757.9 L1622.9,757.9 L1625.9,757.9 L1628.9,757.9 L1631.9,757.9 L1634.9,757.9 L1637.9,757.9 L1640.9,757.9 L1643.9,757.9 L1646.8,757.9 L1649.8,758.0 L1652.8,758.0 L1655.7,758.2 L1658.6,758.4 L1661.5,758.6 L1664.3,758.9 L1667.2,759.2 L1670.0,759.5 L1672.9,759.8 L1675.7,760.0 L1678.7,760.1 L1681.6,760.2 L1684.6,760.3 L1687.6,760.3 L1690.6,760.3 L1693.6,760.3 L1696.6,760.2 L1699.6,760.1 L1702.5,760.0 L1705.5,759.8 L1708.5,759.5 L1711.4,759.0 L1714.3,758.5 L1717.3,757.9 L1720.2,757.2 L1723.1,756.5 L1725.9,755.7 L1728.8,754.9 L1731.7,754.0 L1734.6,753.1 L1737.4,752.2 L1740.2,751.2 L1743.0,750.2 L1745.8,749.1 L1748.6,748.0 L1751.4,746.9 L1754.2,745.8 L1757.0,744.6 L1759.7,743.4 L1762.5,742.2 L1765.2,741.1 L1768.0,739.8 L1770.7,738.6 L1773.4,737.4 L1776.2,736.1 L1778.9,734.9 L1781.6,733.6 L1784.3,732.3 L1787.0,731.1 L1789.8,729.8 L1792.5,728.5 L1795.2,727.3 L1798.0,726.1 L1800.7,724.8 L1803.4,723.6 L1806.2,722.4 L1808.9,721.2 L1811.7,720.1 L1814.4,718.9 L1817.2,717.7 L1820.0,716.5 L1822.7,715.3 L1825.5,714.2 L1828.2,713.0 L1831.0,711.8 L1833.8,710.6 L1836.5,709.5 L1839.3,708.3 L1842.1,707.1 L1844.8,706.0 L1847.6,704.8 L1850.3,703.6 L1853.1,702.5 L1855.9,701.3 L1858.6,700.1 L1861.4,699.0 L1864.2,697.8 L1866.9,696.6 L1869.7,695.5 L1872.5,694.3 L1875.2,693.2 L1878.0,692.0 L1880.8,690.8 L1883.5,689.7 L1886.3,688.5 L1889.0,687.3 L1891.8,686.1 L1894.5,684.8 L1897.2,683.6 L1899.9,682.3 L1902.6,681.0 L1905.3,679.6 L1907.9,678.2 L1910.6,676.8 L1913.2,675.3 L1915.8,673.8 L1918.3,672.2 L1920.8,670.6 L1923.3,668.9 L1925.7,667.2 L1928.1,665.4 L1930.5,663.5 L1932.8,661.6 L1935.1,659.7 L1937.4,657.8 L1939.6,655.8 L1941.8,653.8 L1944.0,651.7 L1946.2,649.7 L1948.4,647.6 L1950.5,645.5 L1952.6,643.4 L1954.7,641.2 L1956.8,639.1 L1958.8,636.9 L1960.8,634.6 L1962.8,632.4 L1964.8,630.2 L1966.8,627.9 L1968.8,625.6 L1970.7,623.3 L1972.6,621.0 L1974.5,618.7 L1976.4,616.4 L1978.2,614.0 L1980.1,611.6 L1981.8,609.2 L1983.5,606.8 L1985.2,604.3 L1986.9,601.8 L1988.5,599.3 L1990.1,596.7 L1991.7,594.2 L1993.2,591.6 L1994.8,589.1 L1996.4,586.5 L1997.9,584.0 L1999.5,581.4 L2001.0,578.8 L2002.6,576.2 L2004.1,573.7 L2005.6,571.1 L2007.1,568.5 L2008.7,565.9 L2010.2,563.3 L2011.7,560.7 L2013.2,558.1 L2014.7,555.6 L2016.3,553.0 L2017.8,550.4 L2019.3,547.8 L2020.9,545.2 L2022.4,542.7 L2023.9,540.1 L2025.5,537.5 L2027.0,534.9 L2028.6,532.4 L2030.2,529.8 L2031.8,527.3 L2033.4,524.8 L2035.0,522.3 L2036.7,519.8 L2038.3,517.3 L2040.0,514.8 L2041.7,512.3 L2043.4,509.8 L2045.1,507.3 L2046.8,504.9 L2048.6,502.5 L2050.3,500.0 L2052.1,497.6 L2053.9,495.3 L2055.8,492.9 L2057.6,490.5 L2059.4,488.1 L2061.2,485.7 L2063.0,483.3 L2064.8,480.9 L2066.6,478.5 L2068.4,476.1 L2070.2,473.7 L2072.0,471.3 L2073.7,468.8 L2075.5,466.4 L2077.2,464.0 L2078.9,461.5 L2080.6,459.0 L2082.3,456.5 L2083.9,454.0 L2085.6,451.5 L2087.2,449.0 L2088.8,446.4 L2090.4,443.9 L2092.0,441.4 L2093.6,438.8 L2095.2,436.3 L2096.8,433.7 L2098.3,431.2 L2099.9,428.6 L2101.5,426.1 L2103.1,423.6 L2104.7,421.0 L2106.3,418.5 L2107.8,415.9 L2109.4,413.4 L2111.0,410.8 L2112.6,408.3 L2114.2,405.7 L2115.8,403.2 L2117.4,400.6 L2119.0,398.1 L2120.6,395.6 L2122.2,393.0 L2123.7,390.5 L2125.3,387.9 L2126.9,385.4 L2128.5,382.8 L2130.0,380.3 L2131.6,377.7 L2133.1,375.1 L2134.7,372.5 L2136.2,369.9 L2137.7,367.4 L2139.2,364.8 L2140.7,362.2 L2142.3,359.6 L2143.8,357.0 L2145.3,354.4 L2146.7,351.8 L2148.2,349.2 L2149.7,346.6 L2151.2,344.0 L2152.6,341.3 L2154.1,338.7 L2155.5,336.1 L2157.0,333.5 L2158.5,330.9 L2159.9,328.2 L2161.4,325.6 L2162.9,323.0 L2164.3,320.4 L2165.8,317.8 L2167.3,315.2 L2168.8,312.6 L2170.3,310.0 L2171.8,307.4 L2173.3,304.8 L2174.7,302.2 L2176.2,299.6 L2177.7,296.9 L2179.2,294.3 L2180.7,291.7 L2182.2,289.1 L2183.7,286.5 L2185.1,283.9 L2186.6,281.3 L2188.1,278.7 L2189.5,276.0 L2191.0,273.4 L2192.4,270.8 L2193.9,268.2 L2195.3,265.5 L2196.7,262.9 L2198.1,260.2 L2199.5,257.5 L2200.8,254.9 L2202.2,252.2 L2203.5,249.5 L2204.9,246.8 L2206.2,244.2 L2207.6,241.5 L2208.9,238.8 L2210.3,236.2 L2211.7,233.5 L2213.2,230.9 L2214.7,228.3 L2216.2,225.7 L2217.7,223.1 L2219.3,220.6 L2220.9,218.0 L2222.5,215.5 L2224.1,213.0 L2225.7,210.4 L2227.3,207.9 L2229.0,205.4 L2230.6,202.9 L2232.3,200.4 L2234.0,198.0 L2235.8,195.5 L2237.5,193.1 L2239.3,190.7 L2241.1,188.3 L2242.9,185.9 L2244.8,183.6 L2246.7,181.3 L2248.7,179.1 L2250.7,176.9 L2252.9,174.8 L2255.0,172.7 L2257.2,170.7 L2259.4,168.7 L2261.7,166.7 L2264.1,164.9 L2266.6,163.2 L2269.1,161.7 L2271.7,160.1 L2274.3,158.6 L2276.9,157.2 L2279.6,156.0 L2282.4,154.8 L2285.2,153.7 L2288.0,152.7 L2290.8,151.8 L2293.7,151.0 L2296.7,150.6 L2299.7,150.4 L2302.7,150.5 L2305.6,150.7 L2308.6,151.1 L2311.5,151.7 L2314.4,152.5 L2317.3,153.4 L2320.1,154.3 L2322.9,155.4 L2325.7,156.5 L2328.3,157.9 L2330.9,159.3 L2333.5,160.9 L2336.1,162.4 L2338.7,163.9 L2341.2,165.6 L2343.6,167.3 L2346.0,169.1 L2348.4,171.0 L2350.7,172.8 L2353.1,174.7 L2355.4,176.6 L2357.7,178.5 L2360.0,180.5 L2362.2,182.4 L2364.5,184.4 L2366.7,186.4 L2369.0,188.4 L2371.2,190.5 L2373.4,192.5 L2375.5,194.6 L2377.7,196.6 L2379.9,198.7 L2382.0,200.8 L2384.1,202.9 L2386.3,205.0 L2388.4,207.1 L2390.6,209.2 L2392.8,211.3 L2395.0,213.3 L2397.1,215.4 L2399.4,217.4 L2401.6,219.4 L2403.8,221.4 L2406.0,223.5 L2408.2,225.5 L2410.4,227.5 L2411.0,228.0"/>
<path stroke="#ff0000" d="M1383.2,853.3 L1386.2,853.2 L1389.2,853.1 L1392.2,853.0 L1395.2,852.9 L1398.2,852.8 L1401.1,852.6 L1404.0,852.2 L1406.9,851.8 L1409.8,851.5 L1412.7,851.1 L1415.6,850.7 L1418.5,850.4 L1421.4,850.2 L1424.4,850.0 L1427.4,849.9 L1430.3,849.8 L1433.3,849.8 L1436.3,849.7 L1439.3,849.7 L1442.3,849.6 L1445.3,849.6 L1448.3,849.6 L1451.3,849.5 L1454.3,849.5 L1457.3,849.4 L1460.3,849.4 L1463.3,849.4 L1466.3,849.3 L1469.3,849.2 L1472.3,849.1 L1475.3,849.0 L1478.3,848.8 L1481.3,848.5 L1484.3,848.3 L1487.2,847.9 L1490.2,847.6 L1493.2,847.3 L1496.2,846.9 L1499.2,846.5 L1502.1,846.1 L1505.1,845.8 L1508.1,845.4 L1511.1,845.0 L1514.0,844.7 L1517.0,844.3 L1520.0,843.9 L1523.0,843.5 L1525.9,843.1 L1528.9,842.8 L1531.9,842.4 L1534.9,842.0 L1537.8,841.6 L1540.8,841.2 L1543.8,840.8 L1546.8,840.4 L1549.7,840.0 L1552.7,839.6 L1555.7,839.1 L1558.6,838.7 L1561.6,838.3 L1564.6,837.9 L1567.6,837.4 L1570.5,837.0 L1573.5,836.6 L1576.5,836.3 L1579.4,835.9 L1582.4,835.6 L1585.4,835.2 L1588.4,834.9 L1591.4,834.6 L1594.4,834.3 L1597.3,834.0 L1600.3,833.7 L1603.3,833.4 L1606.3,833.2 L1609.3,832.9 L1612.3,832.7 L1615.3,832.4 L1618.3,832.2 L1621.3,832.0 L1624.2,831.7 L1627.2,831.5 L1630.2,831.3 L1633.2,831.1 L1636.2,830.9 L1639.2,830.8 L1642.2,830.6 L1645.2,830.5 L1648.2,830.4 L1651.2,830.3 L1654.2,830.3 L1657.2,830.2 L1660.2,830.1 L1663.2,830.1 L1666.2,830.0 L1669.2,829.9 L1672.2,829.8 L1675.2,829.7 L1678.2,829.6 L1681.2,829.4 L1684.1,829.2 L1687.1,828.9 L1690.1,828.5 L1693.0,828.0 L1696.0,827.5 L1698.9,827.0 L1701.9,826.4 L1704.8,825.7 L1707.7,825.1 L1710.6,824.4 L1713.5,823.7 L1716.5,823.0 L1719.4,822.3 L1722.3,821.5 L1725.2,820.8 L1728.1,820.0 L1731.0,819.2 L1733.9,818.4 L1736.7,817.6 L1739.6,816.6 L1742.4,815.7 L1745.2,814.7 L1748.0,813.6 L1750.8,812.6 L1753.6,811.5 L1756.4,810.4 L1759.2,809.3 L1762.0,808.2 L1764.8,807.2 L1767.6,806.1 L1770.5,805.1 L1773.3,804.1 L1776.1,803.1 L1779.0,802.1 L1781.8,801.2 L1784.7,800.3 L1787.5,799.3 L1790.4,798.4 L1793.2,797.5 L1796.1,796.6 L1799.0,795.7 L1801.8,794.9 L1804.7,794.0 L1807.6,793.1 L1810.4,792.3 L1813.3,791.4 L1816.2,790.6 L1819.1,789.7 L1822.0,788.9 L1824.9,788.1 L1827.8,787.4 L1830.7,786.7 L1833.6,786.0 L1836.5,785.4 L1839.5,784.8 L1842.4,784.3 L1845.4,783.7 L1848.3,783.2 L1851.3,782.7 L1854.2,782.2 L1857.2,781.7 L1860.1,781.3 L1863.1,780.9 L1866.1,780.5 L1869.1,780.1 L1872.0,779.8 L1875.0,779.4 L1878.0,779.1 L1881.0,778.8 L1884.0,778.5 L1886.9,778.2 L1889.9,777.8 L1892.9,777.4 L1895.8,776.9 L1898.8,776.4 L1901.7,775.9 L1904.7,775.3 L1907.6,774.6 L1910.5,774.0 L1913.5,773.3 L1916.4,772.6 L1919.3,771.9 L1922.1,771.1 L1925.0,770.2 L1927.8,769.3 L1930.6,768.2 L1933.4,767.1 L1936.1,765.8 L1938.7,764.5 L1941.4,763.1 L1944.0,761.6 L1946.5,760.1 L1949.0,758.5 L1951.5,756.8 L1954.0,755.1 L1956.4,753.3 L1958.7,751.5 L1961.0,749.6 L1963.3,747.6 L1965.5,745.6 L1967.6,743.5 L1969.8,741.4 L1971.9,739.3 L1973.9,737.1 L1975.9,734.9 L1977.9,732.6 L1979.8,730.3 L1981.7,728.0 L1983.6,725.7 L1985.5,723.3 L1987.3,720.9 L1989.1,718.5 L1990.8,716.1 L1992.5,713.7 L1994.2,711.2 L1995.9,708.7 L1997.5,706.2 L1999.1,703.6 L2000.6,701.1 L2002.2,698.5 L2003.7,695.9 L2005.3,693.3 L2006.8,690.8 L2008.3,688.2 L2009.8,685.6 L2011.3,683.0 L2012.8,680.4 L2014.2,677.7 L2015.7,675.1 L2017.1,672.5 L2018.4,669.8 L2019.8,667.1 L2021.1,664.4 L2022.4,661.7 L2023.7,659.0 L2025.0,656.3 L2026.2,653.6 L2027.5,650.8 L2028.7,648.1 L2030.0,645.4 L2031.2,642.6 L2032.4,639.9 L2033.6,637.2 L2034.8,634.4 L2036.0,631.6 L2037.2,628.9 L2038.3,626.1 L2039.4,623.3 L2040.5,620.5 L2041.6,617.8 L2042.7,615.0 L2043.7,612.1 L2044.8,609.3 L2045.8,606.5 L2046.9,603.7 L2047.9,600.9 L2048.9,598.1 L2049.9,595.2 L2050.9,592.4 L2051.9,589.6 L2052.9,586.7 L2053.9,583.9 L2054.8,581.1 L2055.8,578.2 L2056.8,575.4 L2057.8,572.5 L2058.7,569.7 L2059.7,566.9 L2060.6,564.0 L2061.6,561.2 L2062.6,558.3 L2063.5,555.5 L2064.5,552.7 L2065.5,549.8 L2066.5,547.0 L2067.5,544.2 L2068.5,541.4 L2069.5,538.5 L2070.6,535.7 L2071.6,532.9 L2072.6,530.1 L2073.7,527.3 L2074.8,524.5 L2075.9,521.7 L2077.0,518.9 L2078.1,516.1 L2079.2,513.3 L2080.3,510.5 L2081.4,507.7 L2082.5,505.0 L2083.6,502.2 L2084.7,499.4 L2085.8,496.6 L2086.9,493.8 L2088.0,491.0 L2089.1,488.2 L2090.3,485.4 L2091.4,482.7 L2092.6,479.9 L2093.8,477.2 L2095.0,474.4 L2096.2,471.7 L2097.5,469.0 L2098.7,466.2 L2100.0,463.5 L2101.3,460.8 L2102.7,458.2 L2104.0,455.5 L2105.4,452.8 L2106.8,450.2 L2108.3,447.5 L2109.7,444.9 L2111.2,442.3 L2112.7,439.7 L2114.3,437.2 L2115.9,434.6 L2117.5,432.1 L2119.1,429.6 L2120.8,427.1 L2122.4,424.6 L2124.1,422.1 L2125.8,419.7 L2127.6,417.2 L2129.3,414.8 L2131.1,412.4 L2133.0,410.1 L2134.9,407.7 L2136.7,405.4 L2138.6,403.0 L2140.5,400.7 L2142.4,398.4 L2144.2,396.0 L2146.1,393.6 L2147.9,391.3 L2149.7,388.8 L2151.4,386.4 L2153.2,384.0 L2154.9,381.6 L2156.7,379.1 L2158.5,376.7 L2160.3,374.4 L2162.2,372.0 L2164.0,369.7 L2166.0,367.4 L2167.9,365.1 L2169.9,362.9 L2171.9,360.6 L2173.9,358.4 L2175.9,356.2 L2178.0,354.0 L2180.0,351.8 L2182.1,349.6 L2184.1,347.4 L2186.2,345.3 L2188.3,343.1 L2190.3,340.9 L2192.4,338.7 L2194.4,336.5 L2196.5,334.3 L2198.5,332.1 L2200.6,329.9 L2202.6,327.7 L2204.6,325.5 L2206.6,323.3 L2208.7,321.1 L2210.7,318.9 L2212.7,316.7 L2214.8,314.5 L2216.9,312.3 L2219.0,310.2 L2221.1,308.1 L2223.3,306.0 L2225.5,304.0 L2227.7,302.0 L2230.0,300.1 L2232.3,298.1 L2234.5,296.2 L2236.8,294.2 L2239.1,292.3 L2241.4,290.3 L2243.7,288.4 L2246.0,286.5 L2248.3,284.6 L2250.7,282.8 L2253.1,281.0 L2255.4,279.1 L2257.8,277.2 L2260.1,275.4 L2262.5,273.5 L2264.8,271.6 L2267.2,269.8 L2269.7,268.1 L2272.2,266.5 L2274.8,265.0 L2277.4,263.6 L2280.1,262.1 L2282.7,260.8 L2285.4,259.6 L2288.3,258.7 L2291.2,258.0 L2294.1,257.4 L2297.0,256.7 L2300.0,256.1 L2302.9,255.5 L2305.9,254.9 L2308.8,254.4 L2311.8,254.1 L2314.8,253.9 L2317.7,253.9 L2320.7,254.3 L2323.6,255.0 L2326.5,255.7 L2329.4,256.5 L2332.2,257.4 L2335.1,258.4 L2337.9,259.5 L2340.6,260.6 L2343.3,261.9 L2345.8,263.5 L2348.1,265.3 L2350.5,267.2 L2352.7,269.2 L2354.9,271.2 L2357.1,273.3 L2359.2,275.4 L2361.3,277.5 L2363.5,279.6 L2365.6,281.7 L2367.8,283.8 L2370.0,285.8 L2372.2,287.8 L2374.5,289.8 L2376.7,291.8 L2378.9,293.9 L2381.1,295.9 L2383.2,298.0 L2385.4,300.1 L2387.6,302.2 L2389.7,304.3 L2391.8,306.4 L2394.0,308.5 L2396.1,310.6 L2398.2,312.7 L2400.4,314.8 L2402.6,316.8 L2404.8,318.9 L2407.0,320.9 L2409.2,322.9 L2411.4,324.9"/>
<path stroke="#0000ff" d="M1383.2,766.9 L1386.2,767.3 L1389.1,767.8 L1392.1,768.2 L1395.1,768.6 L1398.0,769.1 L1401.0,769.5 L1404.0,769.9 L1406.9,770.4 L1409.9,770.8 L1412.9,771.2 L1415.9,771.5 L1418.8,771.9 L1421.8,772.2 L1424.8,772.6 L1427.8,772.9 L1430.8,773.2 L1433.8,773.5 L1436.7,773.8 L1439.7,774.0 L1442.7,774.3 L1445.7,774.5 L1448.7,774.6 L1451.7,774.7 L1454.7,774.8 L1457.7,774.8 L1460.7,774.8 L1463.7,774.8 L1466.7,774.8 L1469.7,774.8 L1472.7,774.8 L1475.7,774.7 L1478.7,774.7 L1481.7,774.7 L1484.7,774.6 L1487.7,774.6 L1490.7,774.6 L1493.7,774.5 L1496.7,774.5 L1499.7,774.5 L1502.7,774.4 L1505.7,774.4 L1508.7,774.4 L1511.7,774.3 L1514.7,774.3 L1517.7,774.2 L1520.7,774.2 L1523.7,774.1 L1526.7,773.9 L1529.7,773.8 L1532.7,773.6 L1535.6,773.4 L1538.6,773.2 L1541.6,772.9 L1544.6,772.7 L1547.6,772.5 L1550.6,772.2 L1553.6,772.0 L1556.6,771.7 L1559.6,771.5 L1562.6,771.2 L1565.5,771.0 L1568.5,770.8 L1571.5,770.6 L1574.5,770.4 L1577.5,770.3 L1580.5,770.1 L1583.5,770.0 L1586.5,770.0 L1589.5,769.9 L1592.5,769.8 L1595.5,769.8 L1598.5,769.8 L1601.5,769.7 L1604.5,769.7 L1607.5,769.6 L1610.5,769.6 L1613.5,769.6 L1616.4,769.7 L1619.3,769.8 L1622.2,769.9 L1625.1,770.2 L1627.9,770.5 L1630.7,770.8 L1633.6,771.0 L1636.5,771.3 L1639.4,771.4 L1642.3,771.6 L1645.3,771.6 L1648.2,771.7 L1651.2,771.7 L1654.2,771.7 L1657.2,771.7 L1660.2,771.7 L1663.2,771.7 L1666.2,771.7 L1669.2,771.7 L1672.2,771.7 L1675.2,771.7 L1678.2,771.7 L1681.2,771.7 L1684.2,771.6 L1687.2,771.5 L1690.2,771.4 L1693.2,771.2 L1696.2,771.0 L1699.1,770.7 L1702.1,770.3 L1705.1,769.9 L1708.0,769.4 L1711.0,768.9 L1713.9,768.4 L1716.9,767.8 L1719.8,767.2 L1722.7,766.6 L1725.6,765.9 L1728.5,765.1 L1731.5,764.4 L1734.3,763.6 L1737.2,762.8 L1740.1,762.0 L1743.0,761.1 L1745.8,760.2 L1748.7,759.2 L1751.5,758.2 L1754.3,757.2 L1757.1,756.1 L1759.9,755.0 L1762.7,753.9 L1765.5,752.8 L1768.2,751.6 L1771.0,750.5 L1773.8,749.3 L1776.5,748.2 L1779.3,747.0 L1782.0,745.8 L1784.8,744.6 L1787.6,743.5 L1790.3,742.3 L1793.1,741.1 L1795.9,740.0 L1798.7,738.9 L1801.5,737.9 L1804.3,736.8 L1807.1,735.8 L1809.9,734.8 L1812.8,733.8 L1815.6,732.8 L1818.4,731.8 L1821.3,730.8 L1824.1,729.8 L1826.9,728.8 L1829.8,727.9 L1832.6,726.9 L1835.4,725.9 L1838.2,724.9 L1841.1,723.9 L1843.9,722.9 L1846.7,721.9 L1849.6,720.9 L1852.4,719.9 L1855.2,718.9 L1858.0,717.9 L1860.9,716.8 L1863.7,715.8 L1866.5,714.7 L1869.3,713.7 L1872.1,712.6 L1874.9,711.5 L1877.6,710.4 L1880.4,709.2 L1883.2,708.1 L1886.0,707.0 L1888.7,705.8 L1891.5,704.6 L1894.2,703.3 L1896.9,702.0 L1899.5,700.6 L1902.1,699.2 L1904.8,697.7 L1907.3,696.2 L1909.9,694.7 L1912.5,693.1 L1915.0,691.5 L1917.5,689.9 L1920.0,688.2 L1922.5,686.5 L1924.9,684.7 L1927.3,683.0 L1929.7,681.1 L1932.0,679.3 L1934.4,677.4 L1936.7,675.5 L1938.9,673.5 L1941.2,671.6 L1943.5,669.6 L1945.7,667.6 L1947.9,665.6 L1950.1,663.5 L1952.3,661.5 L1954.4,659.4 L1956.5,657.2 L1958.5,655.0 L1960.6,652.8 L1962.5,650.6 L1964.5,648.3 L1966.4,646.0 L1968.4,643.7 L1970.2,641.4 L1972.1,639.1 L1973.9,636.7 L1975.7,634.3 L1977.5,631.8 L1979.2,629.4 L1980.9,627.0 L1982.7,624.5 L1984.4,622.0 L1986.1,619.5 L1987.7,617.1 L1989.4,614.6 L1991.0,612.1 L1992.6,609.5 L1994.2,607.0 L1995.6,604.4 L1997.1,601.7 L1998.5,599.1 L1999.9,596.4 L2001.2,593.8 L2002.5,591.1 L2003.8,588.4 L2005.1,585.6 L2006.3,582.9 L2007.5,580.2 L2008.6,577.4 L2009.7,574.6 L2010.8,571.8 L2011.8,569.0 L2012.9,566.2 L2013.9,563.3 L2014.9,560.5 L2015.9,557.7 L2017.0,554.9 L2018.1,552.1 L2019.1,549.3 L2020.2,546.5 L2021.3,543.7 L2022.4,540.9 L2023.5,538.1 L2024.6,535.3 L2025.7,532.5 L2026.8,529.7 L2027.8,526.9 L2028.9,524.1 L2029.9,521.3 L2030.9,518.5 L2031.9,515.6 L2032.8,512.8 L2033.8,509.9 L2034.6,507.1 L2035.5,504.2 L2036.3,501.3 L2037.1,498.4 L2037.9,495.6 L2038.7,492.7 L2039.5,489.8 L2040.2,486.8 L2040.9,483.9 L2041.7,481.0 L2042.4,478.1 L2043.1,475.2 L2043.8,472.3 L2044.5,469.4 L2045.2,466.4 L2045.8,463.5 L2046.5,460.6 L2047.2,457.7 L2048.0,454.8 L2048.7,451.9 L2049.4,449.0 L2050.2,446.1 L2050.9,443.2 L2051.7,440.3 L2052.5,437.4 L2053.2,434.4 L2054.0,431.5 L2054.7,428.6 L2055.5,425.7 L2056.2,422.8 L2057.0,419.9 L2057.7,417.0 L2058.4,414.1 L2059.2,411.2 L2059.9,408.3 L2060.6,405.4 L2061.3,402.5 L2062.1,399.5 L2062.8,396.6 L2063.5,393.7 L2064.2,390.8 L2065.0,387.9 L2065.7,385.0 L2066.4,382.1 L2067.2,379.2 L2067.9,376.3 L2068.6,373.4 L2069.4,370.5 L2070.1,367.5 L2070.8,364.6 L2071.6,361.7 L2072.3,358.8 L2073.0,355.9 L2073.7,353.0 L2074.5,350.1 L2075.2,347.2 L2075.9,344.3 L2076.6,341.3 L2077.4,338.4 L2078.1,335.5 L2078.8,332.6 L2079.5,329.7 L2080.3,326.8 L2081.0,323.9 L2081.7,321.0 L2082.4,318.1 L2083.1,315.1 L2083.7,312.2 L2084.4,309.3 L2085.0,306.4 L2085.6,303.4 L2086.2,300.5 L2086.9,297.6 L2087.6,294.7 L2088.3,291.8 L2089.2,288.9 L2090.1,286.1 L2091.1,283.3 L2092.1,280.5 L2093.1,277.6 L2094.2,274.8 L2095.3,272.0 L2096.5,269.3 L2097.7,266.6 L2099.0,263.9 L2100.3,261.2 L2101.7,258.5 L2103.0,255.8 L2104.4,253.1 L2105.7,250.5 L2107.2,247.9 L2108.8,245.3 L2110.5,242.9 L2112.2,240.4 L2114.0,238.0 L2115.7,235.5 L2117.5,233.1 L2119.3,230.8 L2121.3,228.5 L2123.5,226.5 L2125.7,224.4 L2127.9,222.4 L2130.2,220.5 L2132.4,218.5 L2134.8,216.6 L2137.2,214.9 L2139.7,213.2 L2142.2,211.6 L2144.7,210.0 L2147.3,208.4 L2149.9,207.0 L2152.6,205.7 L2155.4,204.5 L2158.1,203.3 L2160.9,202.2 L2163.7,201.1 L2166.4,199.9 L2169.2,198.8 L2172.0,197.7 L2174.8,196.6 L2177.6,195.6 L2180.4,194.5 L2183.3,193.5 L2186.1,192.4 L2188.9,191.4 L2191.7,190.4 L2194.6,189.4 L2197.4,188.5 L2200.2,187.5 L2203.1,186.6 L2206.0,185.7 L2208.8,184.9 L2211.7,184.0 L2214.6,183.1 L2217.4,182.3 L2220.3,181.4 L2223.2,180.6 L2226.1,179.8 L2229.0,179.0 L2231.9,178.2 L2234.8,177.4 L2237.7,176.7 L2240.6,175.9 L2243.5,175.2 L2246.4,174.4 L2249.3,173.8 L2252.3,173.2 L2255.2,172.6 L2258.2,172.0 L2261.1,171.5 L2264.1,171.0 L2267.0,170.5 L2270.0,170.2 L2273.0,170.0 L2276.0,170.0 L2279.0,170.0 L2282.0,170.0 L2285.0,170.1 L2287.9,170.4 L2290.9,170.9 L2293.8,171.5 L2296.7,172.2 L2299.6,172.9 L2302.5,173.8 L2305.2,174.9 L2308.0,176.1 L2310.7,177.4 L2313.5,178.6 L2316.2,179.9 L2318.8,181.3 L2321.4,182.7 L2324.0,184.3 L2326.6,185.8 L2329.1,187.4 L2331.7,189.0 L2334.1,190.7 L2336.4,192.6 L2338.7,194.5 L2341.0,196.5 L2343.2,198.5 L2345.4,200.5 L2347.6,202.6 L2349.8,204.6 L2351.9,206.7 L2354.1,208.8 L2356.2,210.9 L2358.4,213.0 L2360.5,215.1 L2362.6,217.3 L2364.7,219.4 L2366.7,221.6 L2368.8,223.8 L2370.9,226.0 L2372.9,228.2 L2374.9,230.4 L2377.0,232.6 L2379.0,234.8 L2381.1,236.9 L2383.1,239.1 L2385.2,241.3 L2387.3,243.4 L2389.4,245.6 L2391.5,247.7 L2393.6,249.8 L2395.8,251.9 L2397.9,254.1 L2400.0,256.2 L2402.1,258.3 L2404.3,260.4 L2406.4,262.5 L2408.6,264.6 L2410.7,266.7 L2411.4,267.4"/>
<path stroke="#000000" d="M1383.2,799.5 L1386.2,799.8 L1389.2,800.1 L1392.1,800.5 L1395.1,800.8 L1398.1,801.1 L1401.1,801.4 L1404.1,801.7 L1407.1,801.9 L1410.1,802.2 L1413.0,802.3 L1416.0,802.5 L1419.0,802.6 L1422.0,802.6 L1425.0,802.7 L1428.0,802.7 L1431.0,802.7 L1434.0,802.7 L1437.0,802.7 L1440.0,802.7 L1443.0,802.7 L1446.0,802.7 L1449.0,802.7 L1452.0,802.7 L1455.0,802.7 L1458.0,802.7 L1461.0,802.7 L1464.0,802.7 L1467.0,802.7 L1470.0,802.7 L1473.0,802.7 L1476.0,802.7 L1479.0,802.7 L1482.0,802.7 L1485.0,802.7 L1488.0,802.7 L1491.0,802.7 L1494.0,802.7 L1497.0,802.7 L1500.0,802.7 L1503.0,802.7 L1506.0,802.7 L1509.0,802.6 L1511.9,802.5 L1514.8,802.4 L1517.7,802.2 L1520.5,801.9 L1523.3,801.5 L1526.1,801.0 L1528.8,800.6 L1531.6,800.1 L1534.4,799.8 L1537.3,799.5 L1540.2,799.3 L1543.1,799.1 L1546.1,799.0 L1549.0,798.8 L1552.0,798.6 L1554.9,798.4 L1557.8,798.1 L1560.7,797.9 L1563.6,797.6 L1566.5,797.4 L1569.5,797.3 L1572.4,797.1 L1575.4,797.1 L1578.4,797.0 L1581.4,797.0 L1584.4,797.0 L1587.4,797.0 L1590.4,797.0 L1593.4,797.0 L1596.4,797.0 L1599.4,797.0 L1602.4,797.0 L1605.4,797.0 L1608.4,797.0 L1611.4,797.0 L1614.4,797.0 L1617.4,797.0 L1620.4,797.0 L1623.4,797.0 L1626.4,797.0 L1629.4,797.0 L1632.4,797.0 L1635.4,797.0 L1638.4,797.0 L1641.4,797.0 L1644.4,797.0 L1647.4,797.0 L1650.4,797.0 L1653.4,797.0 L1656.4,797.0 L1659.4,797.0 L1662.4,797.0 L1665.4,797.0 L1668.4,797.0 L1671.4,797.0 L1674.4,797.0 L1677.4,797.0 L1680.4,797.0 L1683.4,797.0 L1686.4,797.0 L1689.4,796.9 L1692.3,796.9 L1695.3,796.8 L1698.3,796.6 L1701.3,796.3 L1704.2,795.9 L1707.2,795.5 L1710.1,794.9 L1713.0,794.3 L1715.9,793.6 L1718.8,792.9 L1721.7,792.1 L1724.6,791.3 L1727.5,790.5 L1730.4,789.7 L1733.3,788.8 L1736.1,788.0 L1739.0,787.1 L1741.9,786.2 L1744.8,785.3 L1747.6,784.4 L1750.5,783.5 L1753.3,782.6 L1756.2,781.6 L1759.0,780.7 L1761.8,779.7 L1764.7,778.7 L1767.5,777.7 L1770.3,776.7 L1773.1,775.6 L1775.9,774.6 L1778.7,773.5 L1781.5,772.4 L1784.3,771.3 L1787.1,770.2 L1789.9,769.2 L1792.7,768.1 L1795.5,767.1 L1798.4,766.0 L1801.2,765.0 L1804.0,764.0 L1806.9,763.1 L1809.7,762.1 L1812.5,761.2 L1815.4,760.3 L1818.3,759.3 L1821.1,758.4 L1824.0,757.6 L1826.9,756.7 L1829.7,755.9 L1832.6,755.2 L1835.6,754.5 L1838.5,753.8 L1841.4,753.2 L1844.3,752.6 L1847.3,752.0 L1850.2,751.4 L1853.2,750.8 L1856.1,750.2 L1859.0,749.6 L1862.0,749.0 L1864.9,748.4 L1867.9,747.8 L1870.8,747.2 L1873.7,746.7 L1876.7,746.1 L1879.6,745.5 L1882.6,744.9 L1885.5,744.3 L1888.4,743.6 L1891.3,742.9 L1894.2,742.2 L1897.1,741.4 L1900.0,740.5 L1902.9,739.7 L1905.7,738.7 L1908.5,737.8 L1911.4,736.8 L1914.2,735.8 L1917.0,734.7 L1919.8,733.7 L1922.5,732.5 L1925.3,731.3 L1927.9,730.0 L1930.5,728.6 L1933.1,727.1 L1935.6,725.5 L1938.1,723.8 L1940.5,722.1 L1942.9,720.3 L1945.3,718.4 L1947.6,716.5 L1949.8,714.6 L1952.1,712.6 L1954.3,710.6 L1956.5,708.5 L1958.7,706.5 L1960.8,704.4 L1962.9,702.2 L1965.0,700.0 L1967.0,697.8 L1969.0,695.6 L1970.9,693.3 L1972.8,691.0 L1974.7,688.7 L1976.4,686.3 L1978.2,683.8 L1979.8,681.4 L1981.5,678.8 L1983.1,676.3 L1984.6,673.8 L1986.2,671.2 L1987.7,668.6 L1989.3,666.0 L1990.8,663.5 L1992.3,660.9 L1993.8,658.3 L1995.3,655.7 L1996.8,653.1 L1998.3,650.5 L1999.8,647.9 L2001.2,645.2 L2002.6,642.6 L2004.0,639.9 L2005.4,637.3 L2006.8,634.6 L2008.1,631.9 L2009.5,629.2 L2010.8,626.5 L2012.1,623.8 L2013.3,621.1 L2014.6,618.4 L2015.8,615.7 L2017.1,612.9 L2018.3,610.2 L2019.5,607.4 L2020.6,604.7 L2021.8,601.9 L2022.9,599.1 L2024.1,596.4 L2025.2,593.6 L2026.2,590.8 L2027.2,587.9 L2028.2,585.1 L2029.1,582.3 L2029.9,579.4 L2030.8,576.5 L2031.6,573.6 L2032.4,570.7 L2033.2,567.8 L2034.0,564.9 L2034.7,562.0 L2035.5,559.1 L2036.2,556.2 L2036.9,553.3 L2037.7,550.4 L2038.4,547.5 L2039.1,544.6 L2039.8,541.7 L2040.6,538.8 L2041.3,535.9 L2042.0,532.9 L2042.7,530.0 L2043.4,527.1 L2044.2,524.2 L2044.9,521.3 L2045.6,518.4 L2046.3,515.5 L2046.9,512.5 L2047.6,509.6 L2048.3,506.7 L2048.9,503.8 L2049.6,500.8 L2050.2,497.9 L2050.8,495.0 L2051.4,492.0 L2052.1,489.1 L2052.7,486.2 L2053.4,483.2 L2054.0,480.3 L2054.6,477.4 L2055.3,474.4 L2056.0,471.5 L2056.6,468.6 L2057.3,465.7 L2058.0,462.7 L2058.7,459.8 L2059.3,456.9 L2060.0,454.0 L2060.7,451.1 L2061.4,448.1 L2062.1,445.2 L2062.8,442.3 L2063.6,439.4 L2064.3,436.5 L2065.0,433.6 L2065.7,430.7 L2066.5,427.8 L2067.2,424.8 L2067.9,421.9 L2068.6,419.0 L2069.4,416.1 L2070.1,413.2 L2070.8,410.3 L2071.5,407.4 L2072.3,404.5 L2073.0,401.6 L2073.7,398.6 L2074.4,395.7 L2075.2,392.8 L2075.9,389.9 L2076.6,387.0 L2077.4,384.1 L2078.1,381.2 L2078.9,378.3 L2079.7,375.4 L2080.5,372.5 L2081.3,369.6 L2082.1,366.7 L2083.0,363.9 L2083.9,361.0 L2084.8,358.1 L2085.7,355.3 L2086.6,352.4 L2087.5,349.6 L2088.5,346.7 L2089.5,343.9 L2090.5,341.1 L2091.5,338.3 L2092.6,335.5 L2093.6,332.7 L2094.7,329.9 L2095.7,327.0 L2096.8,324.2 L2097.9,321.4 L2098.9,318.6 L2100.0,315.8 L2101.1,313.1 L2102.3,310.3 L2103.5,307.5 L2104.7,304.8 L2106.0,302.1 L2107.4,299.5 L2108.8,296.8 L2110.3,294.2 L2111.9,291.7 L2113.6,289.3 L2115.4,286.9 L2117.3,284.5 L2119.2,282.2 L2121.1,279.9 L2123.0,277.6 L2125.0,275.3 L2126.9,273.0 L2128.9,270.7 L2130.8,268.5 L2132.8,266.3 L2134.9,264.1 L2137.1,262.1 L2139.4,260.2 L2141.7,258.3 L2144.1,256.4 L2146.5,254.6 L2148.9,252.8 L2151.3,251.1 L2153.7,249.3 L2156.2,247.6 L2158.6,245.9 L2161.1,244.2 L2163.6,242.5 L2166.1,240.9 L2168.6,239.2 L2171.1,237.6 L2173.6,235.9 L2176.1,234.2 L2178.6,232.6 L2181.1,230.9 L2183.6,229.2 L2186.1,227.6 L2188.6,225.9 L2191.1,224.3 L2193.6,222.6 L2196.1,220.9 L2198.6,219.3 L2201.1,217.7 L2203.6,216.0 L2206.1,214.4 L2208.7,212.8 L2211.2,211.1 L2213.7,209.5 L2216.3,208.0 L2218.8,206.4 L2221.4,204.9 L2224.0,203.4 L2226.7,202.0 L2229.3,200.6 L2232.0,199.3 L2234.7,198.0 L2237.4,196.7 L2240.1,195.5 L2242.9,194.2 L2245.7,193.1 L2248.5,192.0 L2251.3,191.0 L2254.1,190.0 L2256.9,189.0 L2259.8,188.1 L2262.6,187.2 L2265.5,186.3 L2268.4,185.5 L2271.3,185.0 L2274.3,184.8 L2277.3,184.7 L2280.3,184.6 L2283.3,184.5 L2286.3,184.4 L2289.3,184.4 L2292.3,184.4 L2295.3,184.5 L2298.3,184.7 L2301.3,184.8 L2304.2,185.1 L2307.1,185.6 L2309.9,186.6 L2312.6,187.9 L2315.3,189.1 L2318.0,190.5 L2320.6,192.0 L2323.2,193.5 L2325.8,195.0 L2328.4,196.6 L2330.9,198.1 L2333.5,199.7 L2336.0,201.4 L2338.4,203.1 L2340.9,204.8 L2343.3,206.5 L2345.8,208.3 L2348.2,210.1 L2350.5,212.0 L2352.7,214.0 L2354.9,216.0 L2357.0,218.1 L2359.1,220.2 L2361.3,222.4 L2363.4,224.5 L2365.5,226.6 L2367.6,228.7 L2369.8,230.8 L2371.9,233.0 L2374.0,235.1 L2376.1,237.2 L2378.3,239.3 L2380.4,241.4 L2382.5,243.5 L2384.6,245.7 L2386.8,247.8 L2388.9,249.9 L2391.0,252.0 L2393.2,254.1 L2395.3,256.2 L2397.4,258.3 L2399.6,260.4 L2401.7,262.5 L2403.9,264.6 L2406.1,266.6 L2408.3,268.6 L2410.5,270.7 L2411.2,271.4"/>
</g>
<g clip-path="url(#cr)" fill="none" stroke-width="2.5" stroke-dasharray="14 8 3.2 6 3.2 8">
<line stroke="#000080" x1="1924.2" y1="658.3" x2="1581.0" y2="1135.5"/>
<line stroke="#808080" x1="1938.0" y1="667.3" x2="1615.0" y2="1134.0"/>
<line stroke="#800000" x1="1945.6" y1="922.9" x2="1594.0" y2="1131.5"/>
<line stroke="#0000ff" x1="1957.6" y1="665.7" x2="1692.5" y2="1134.0"/>
<line stroke="#000000" x1="1975.6" y1="695.0" x2="1755.0" y2="1134.0"/>
<line stroke="#ff0000" x1="1982.0" y1="735.8" x2="1766.5" y2="1134.0"/>
</g>
<line x1="2103.8" y1="620" x2="2045" y2="573" stroke="#000" stroke-width="2.4"/>
<polygon points="2035.3,565.6 2055.5,573 2046.5,583.5" fill="#000"/>
<text transform="translate(1352.1,1193.6) scale(0.920,1)" font-size="42.5" font-weight="bold" fill="#000" letter-spacing="3.25">2.0</text>
<text transform="translate(1608.9,1193.6) scale(0.920,1)" font-size="42.5" font-weight="bold" fill="#000" letter-spacing="2.99">2.5</text>
<text transform="translate(1866.4,1193.6) scale(0.920,1)" font-size="42.5" font-weight="bold" fill="#000" letter-spacing="2.99">3.0</text>
<text transform="translate(2123.9,1193.6) scale(0.920,1)" font-size="42.5" font-weight="bold" fill="#000" letter-spacing="2.72">3.5</text>
<text transform="translate(2380.7,1193.6) scale(0.920,1)" font-size="42.5" font-weight="bold" fill="#000" letter-spacing="2.83">4.0</text>
<text x="1819.8" y="1250.4" font-size="46.0" font-weight="bold" fill="#000" letter-spacing="-0.46">hv (eV)</text>
<g transform="translate(1343.1,666.5) rotate(-90)"><text transform="scale(0.88,1)" font-size="52" font-weight="bold"><tspan x="-3">(</tspan><tspan x="16" font-weight="normal" font-size="50">α</tspan><tspan x="54">h</tspan><tspan x="88.5">v</tspan><tspan x="119">)</tspan><tspan x="138.5" dy="-21" font-size="37.5" letter-spacing="0.4">1/2</tspan></text></g>
<text x="1534.8" y="257.3" font-size="39.0" font-weight="normal" fill="#800000" letter-spacing="-0.08" stroke="#800000" stroke-width="1.3" stroke-linejoin="round">(i) WO 0.5</text>
<text x="1534.8" y="305.0" font-size="39.0" font-weight="normal" fill="#000080" letter-spacing="0.04" stroke="#000080" stroke-width="1.3" stroke-linejoin="round">(ii) WO 1.0</text>
<text x="1534.8" y="352.0" font-size="39.0" font-weight="normal" fill="#808080" letter-spacing="-0.03" stroke="#808080" stroke-width="1.3" stroke-linejoin="round">(iii) WO 2.0</text>
<text x="1534.8" y="399.6" font-size="39.0" font-weight="normal" fill="#ff0000" letter-spacing="-0.28" stroke="#ff0000" stroke-width="1.3" stroke-linejoin="round">(iv) WO 0.5 + ZnO 2.0</text>
<text x="1534.8" y="447.0" font-size="39.0" font-weight="normal" fill="#0000ff" letter-spacing="-0.37" stroke="#0000ff" stroke-width="1.3" stroke-linejoin="round">(v) WO 1.0 + ZnO 2.0</text>
<text x="1534.8" y="492.8" font-size="39.0" font-weight="normal" fill="#000000" letter-spacing="-0.28" stroke="#000000" stroke-width="1.3" stroke-linejoin="round">(vi) WO 2.0 + ZnO 2.0</text>
<text transform="translate(1397.2,102.5) scale(0.920,1)" font-size="60.4" font-weight="bold" fill="#000" letter-spacing="2.50">(b)</text>
<text transform="translate(2269.1,133.9) scale(0.930,1)" font-size="41.2" font-weight="bold" fill="#808080" letter-spacing="1.58">(iii)</text>
<text transform="translate(2022.1,301.8) scale(0.930,1)" font-size="41.9" font-weight="bold" fill="#0000ff" letter-spacing="1.04">(v)</text>
<text transform="translate(2282.9,310.0) scale(0.930,1)" font-size="41.1" font-weight="bold" fill="#ff0000" letter-spacing="1.87">(iv)</text>
<text transform="translate(1861.1,634.3) scale(0.930,1)" font-size="41.1" font-weight="bold" fill="#000080" letter-spacing="2.23">(ii)</text>
<text transform="translate(2081.3,661.5) scale(0.930,1)" font-size="44.6" font-weight="bold" fill="#000000" letter-spacing="2.59">(vi)</text>
<text transform="translate(2308.7,617.5) scale(0.930,1)" font-size="41.1" font-weight="bold" fill="#800000" letter-spacing="2.00">(i)</text>
</svg>
</body></html>
